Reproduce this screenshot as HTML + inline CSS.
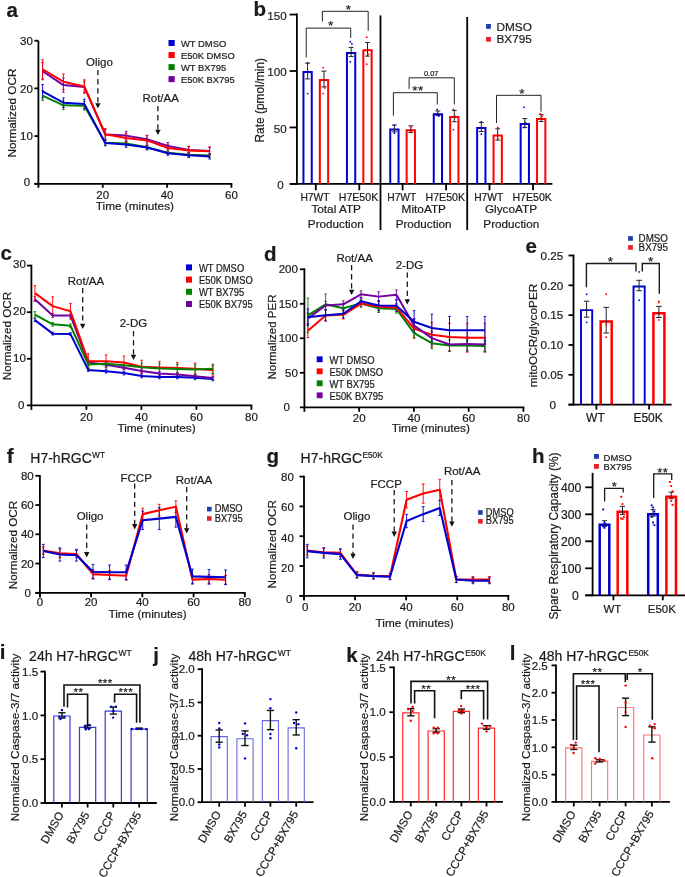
<!DOCTYPE html>
<html><head><meta charset="utf-8"><style>
html,body{margin:0;padding:0;background:#fff;width:685px;height:877px;overflow:hidden}
svg{display:block;will-change:transform}
text{font-family:"Liberation Sans", sans-serif;fill:#1a1a1a;stroke:#1a1a1a;stroke-width:0.2px}
</style></head><body>
<svg width="685" height="877" viewBox="0 0 685 877">
<rect width="685" height="877" fill="#fff"/>
<text x="6.5" y="17.2" font-size="20.5" font-weight="bold" fill="#000">a</text>
<line x1="38.4" y1="40.7" x2="38.4" y2="184.7" stroke="#000" stroke-width="1.8"/>
<line x1="34.4" y1="183.8" x2="232.32" y2="183.8" stroke="#000" stroke-width="1.8"/>
<line x1="34.4" y1="40.7" x2="38.4" y2="40.7" stroke="#000" stroke-width="1.8"/>
<text x="32.8" y="44.8" font-size="11.5" text-anchor="end">30</text>
<line x1="34.4" y1="88.4" x2="38.4" y2="88.4" stroke="#000" stroke-width="1.8"/>
<text x="32.8" y="92.5" font-size="11.5" text-anchor="end">20</text>
<line x1="34.4" y1="136.1" x2="38.4" y2="136.1" stroke="#000" stroke-width="1.8"/>
<text x="32.8" y="140.2" font-size="11.5" text-anchor="end">10</text>
<line x1="34.4" y1="183.8" x2="38.4" y2="183.8" stroke="#000" stroke-width="1.8"/>
<text x="30.2" y="186.4" font-size="11.5" text-anchor="end">0</text>
<line x1="102.74" y1="183.8" x2="102.74" y2="187.8" stroke="#000" stroke-width="1.8"/>
<text x="102.74" y="198.5" font-size="11.5" text-anchor="middle">20</text>
<line x1="167.08" y1="183.8" x2="167.08" y2="187.8" stroke="#000" stroke-width="1.8"/>
<text x="167.08" y="198.5" font-size="11.5" text-anchor="middle">40</text>
<line x1="231.42" y1="183.8" x2="231.42" y2="187.8" stroke="#000" stroke-width="1.8"/>
<text x="231.42" y="198.5" font-size="11.5" text-anchor="middle">60</text>
<line x1="38.4" y1="183.8" x2="38.4" y2="187.8" stroke="#000" stroke-width="1.8"/>
<text x="134.9" y="209.5" font-size="11.8" text-anchor="middle">Time (minutes)</text>
<text x="16.2" y="113" font-size="11.8" text-anchor="middle" transform="rotate(-90 16.2 113)">Normalized OCR</text>
<text x="99.4" y="66.3" font-size="11.5" text-anchor="middle">Oligo</text>
<line x1="97.9" y1="70" x2="97.9" y2="104" stroke="#111" stroke-width="1.25" stroke-dasharray="5.3,3.8"/>
<path d="M95.2,103.2 L100.6,103.2 L97.9,108.5 Z" fill="#111" stroke="none" stroke-width="0"/>
<text x="160.7" y="102" font-size="11.5" text-anchor="middle">Rot/AA</text>
<line x1="157.9" y1="106" x2="157.9" y2="130.5" stroke="#111" stroke-width="1.25" stroke-dasharray="5.3,3.8"/>
<path d="M155.2,129.7 L160.6,129.7 L157.9,135 Z" fill="#111" stroke="none" stroke-width="0"/>
<rect x="168.5" y="40" width="6.2" height="6" fill="#0000d0"/>
<text transform="translate(181 47) scale(1 1.06)" font-size="9.4">WT DMSO</text>
<rect x="168.5" y="52.05" width="6.2" height="6" fill="#ff0000"/>
<text transform="translate(181 59) scale(1 1.06)" font-size="9.4">E50K DMSO</text>
<rect x="168.5" y="64.1" width="6.2" height="6" fill="#008000"/>
<text transform="translate(181 71) scale(1 1.06)" font-size="9.4">WT BX795</text>
<rect x="168.5" y="76.15" width="6.2" height="6" fill="#7000a0"/>
<text transform="translate(181 83) scale(1 1.06)" font-size="9.4">E50K BX795</text>
<line x1="42.58" y1="90.79" x2="42.58" y2="100.33" stroke="#008000" stroke-width="0.9"/>
<line x1="41.28" y1="90.79" x2="43.88" y2="90.79" stroke="#008000" stroke-width="0.9"/>
<line x1="41.28" y1="100.33" x2="43.88" y2="100.33" stroke="#008000" stroke-width="0.9"/>
<line x1="63.46" y1="101.04" x2="63.46" y2="109.63" stroke="#008000" stroke-width="0.9"/>
<line x1="62.16" y1="101.04" x2="64.76" y2="101.04" stroke="#008000" stroke-width="0.9"/>
<line x1="62.16" y1="109.63" x2="64.76" y2="109.63" stroke="#008000" stroke-width="0.9"/>
<line x1="84.34" y1="101.52" x2="84.34" y2="110.1" stroke="#008000" stroke-width="0.9"/>
<line x1="83.04" y1="101.52" x2="85.64" y2="101.52" stroke="#008000" stroke-width="0.9"/>
<line x1="83.04" y1="110.1" x2="85.64" y2="110.1" stroke="#008000" stroke-width="0.9"/>
<line x1="105.22" y1="140.39" x2="105.22" y2="145.16" stroke="#008000" stroke-width="0.9"/>
<line x1="103.92" y1="140.39" x2="106.52" y2="140.39" stroke="#008000" stroke-width="0.9"/>
<line x1="103.92" y1="145.16" x2="106.52" y2="145.16" stroke="#008000" stroke-width="0.9"/>
<line x1="126.1" y1="141.11" x2="126.1" y2="145.88" stroke="#008000" stroke-width="0.9"/>
<line x1="124.8" y1="141.11" x2="127.4" y2="141.11" stroke="#008000" stroke-width="0.9"/>
<line x1="124.8" y1="145.88" x2="127.4" y2="145.88" stroke="#008000" stroke-width="0.9"/>
<line x1="146.97" y1="145.4" x2="146.97" y2="149.22" stroke="#008000" stroke-width="0.9"/>
<line x1="145.67" y1="145.4" x2="148.27" y2="145.4" stroke="#008000" stroke-width="0.9"/>
<line x1="145.67" y1="149.22" x2="148.27" y2="149.22" stroke="#008000" stroke-width="0.9"/>
<line x1="167.85" y1="150.89" x2="167.85" y2="154.7" stroke="#008000" stroke-width="0.9"/>
<line x1="166.55" y1="150.89" x2="169.15" y2="150.89" stroke="#008000" stroke-width="0.9"/>
<line x1="166.55" y1="154.7" x2="169.15" y2="154.7" stroke="#008000" stroke-width="0.9"/>
<line x1="188.73" y1="152.8" x2="188.73" y2="156.61" stroke="#008000" stroke-width="0.9"/>
<line x1="187.43" y1="152.8" x2="190.03" y2="152.8" stroke="#008000" stroke-width="0.9"/>
<line x1="187.43" y1="156.61" x2="190.03" y2="156.61" stroke="#008000" stroke-width="0.9"/>
<line x1="209.61" y1="153.51" x2="209.61" y2="157.33" stroke="#008000" stroke-width="0.9"/>
<line x1="208.31" y1="153.51" x2="210.91" y2="153.51" stroke="#008000" stroke-width="0.9"/>
<line x1="208.31" y1="157.33" x2="210.91" y2="157.33" stroke="#008000" stroke-width="0.9"/>
<line x1="42.58" y1="84.58" x2="42.58" y2="97.94" stroke="#0000d0" stroke-width="0.9"/>
<line x1="41.28" y1="84.58" x2="43.88" y2="84.58" stroke="#0000d0" stroke-width="0.9"/>
<line x1="41.28" y1="97.94" x2="43.88" y2="97.94" stroke="#0000d0" stroke-width="0.9"/>
<line x1="63.46" y1="97.94" x2="63.46" y2="107.48" stroke="#0000d0" stroke-width="0.9"/>
<line x1="62.16" y1="97.94" x2="64.76" y2="97.94" stroke="#0000d0" stroke-width="0.9"/>
<line x1="62.16" y1="107.48" x2="64.76" y2="107.48" stroke="#0000d0" stroke-width="0.9"/>
<line x1="84.34" y1="99.13" x2="84.34" y2="108.67" stroke="#0000d0" stroke-width="0.9"/>
<line x1="83.04" y1="99.13" x2="85.64" y2="99.13" stroke="#0000d0" stroke-width="0.9"/>
<line x1="83.04" y1="108.67" x2="85.64" y2="108.67" stroke="#0000d0" stroke-width="0.9"/>
<line x1="105.22" y1="140.06" x2="105.22" y2="145.78" stroke="#0000d0" stroke-width="0.9"/>
<line x1="103.92" y1="140.06" x2="106.52" y2="140.06" stroke="#0000d0" stroke-width="0.9"/>
<line x1="103.92" y1="145.78" x2="106.52" y2="145.78" stroke="#0000d0" stroke-width="0.9"/>
<line x1="126.1" y1="141.54" x2="126.1" y2="147.26" stroke="#0000d0" stroke-width="0.9"/>
<line x1="124.8" y1="141.54" x2="127.4" y2="141.54" stroke="#0000d0" stroke-width="0.9"/>
<line x1="124.8" y1="147.26" x2="127.4" y2="147.26" stroke="#0000d0" stroke-width="0.9"/>
<line x1="146.97" y1="145.16" x2="146.97" y2="149.93" stroke="#0000d0" stroke-width="0.9"/>
<line x1="145.67" y1="145.16" x2="148.27" y2="145.16" stroke="#0000d0" stroke-width="0.9"/>
<line x1="145.67" y1="149.93" x2="148.27" y2="149.93" stroke="#0000d0" stroke-width="0.9"/>
<line x1="167.85" y1="151.36" x2="167.85" y2="155.18" stroke="#0000d0" stroke-width="0.9"/>
<line x1="166.55" y1="151.36" x2="169.15" y2="151.36" stroke="#0000d0" stroke-width="0.9"/>
<line x1="166.55" y1="155.18" x2="169.15" y2="155.18" stroke="#0000d0" stroke-width="0.9"/>
<line x1="188.73" y1="152.8" x2="188.73" y2="157.56" stroke="#0000d0" stroke-width="0.9"/>
<line x1="187.43" y1="152.8" x2="190.03" y2="152.8" stroke="#0000d0" stroke-width="0.9"/>
<line x1="187.43" y1="157.56" x2="190.03" y2="157.56" stroke="#0000d0" stroke-width="0.9"/>
<line x1="209.61" y1="154.23" x2="209.61" y2="159" stroke="#0000d0" stroke-width="0.9"/>
<line x1="208.31" y1="154.23" x2="210.91" y2="154.23" stroke="#0000d0" stroke-width="0.9"/>
<line x1="208.31" y1="159" x2="210.91" y2="159" stroke="#0000d0" stroke-width="0.9"/>
<line x1="42.58" y1="62.64" x2="42.58" y2="79.81" stroke="#7000a0" stroke-width="0.9"/>
<line x1="41.28" y1="62.64" x2="43.88" y2="62.64" stroke="#7000a0" stroke-width="0.9"/>
<line x1="41.28" y1="79.81" x2="43.88" y2="79.81" stroke="#7000a0" stroke-width="0.9"/>
<line x1="63.46" y1="77.91" x2="63.46" y2="92.22" stroke="#7000a0" stroke-width="0.9"/>
<line x1="62.16" y1="77.91" x2="64.76" y2="77.91" stroke="#7000a0" stroke-width="0.9"/>
<line x1="62.16" y1="92.22" x2="64.76" y2="92.22" stroke="#7000a0" stroke-width="0.9"/>
<line x1="84.34" y1="81.25" x2="84.34" y2="92.69" stroke="#7000a0" stroke-width="0.9"/>
<line x1="83.04" y1="81.25" x2="85.64" y2="81.25" stroke="#7000a0" stroke-width="0.9"/>
<line x1="83.04" y1="92.69" x2="85.64" y2="92.69" stroke="#7000a0" stroke-width="0.9"/>
<line x1="105.22" y1="129.66" x2="105.22" y2="139.2" stroke="#7000a0" stroke-width="0.9"/>
<line x1="103.92" y1="129.66" x2="106.52" y2="129.66" stroke="#7000a0" stroke-width="0.9"/>
<line x1="103.92" y1="139.2" x2="106.52" y2="139.2" stroke="#7000a0" stroke-width="0.9"/>
<line x1="126.1" y1="131.33" x2="126.1" y2="139.92" stroke="#7000a0" stroke-width="0.9"/>
<line x1="124.8" y1="131.33" x2="127.4" y2="131.33" stroke="#7000a0" stroke-width="0.9"/>
<line x1="124.8" y1="139.92" x2="127.4" y2="139.92" stroke="#7000a0" stroke-width="0.9"/>
<line x1="146.97" y1="135.38" x2="146.97" y2="143.02" stroke="#7000a0" stroke-width="0.9"/>
<line x1="145.67" y1="135.38" x2="148.27" y2="135.38" stroke="#7000a0" stroke-width="0.9"/>
<line x1="145.67" y1="143.02" x2="148.27" y2="143.02" stroke="#7000a0" stroke-width="0.9"/>
<line x1="167.85" y1="142.54" x2="167.85" y2="149.22" stroke="#7000a0" stroke-width="0.9"/>
<line x1="166.55" y1="142.54" x2="169.15" y2="142.54" stroke="#7000a0" stroke-width="0.9"/>
<line x1="166.55" y1="149.22" x2="169.15" y2="149.22" stroke="#7000a0" stroke-width="0.9"/>
<line x1="188.73" y1="146.59" x2="188.73" y2="153.27" stroke="#7000a0" stroke-width="0.9"/>
<line x1="187.43" y1="146.59" x2="190.03" y2="146.59" stroke="#7000a0" stroke-width="0.9"/>
<line x1="187.43" y1="153.27" x2="190.03" y2="153.27" stroke="#7000a0" stroke-width="0.9"/>
<line x1="209.61" y1="147.55" x2="209.61" y2="154.23" stroke="#7000a0" stroke-width="0.9"/>
<line x1="208.31" y1="147.55" x2="210.91" y2="147.55" stroke="#7000a0" stroke-width="0.9"/>
<line x1="208.31" y1="154.23" x2="210.91" y2="154.23" stroke="#7000a0" stroke-width="0.9"/>
<line x1="42.58" y1="59.78" x2="42.58" y2="78.86" stroke="#ff0000" stroke-width="0.9"/>
<line x1="41.28" y1="59.78" x2="43.88" y2="59.78" stroke="#ff0000" stroke-width="0.9"/>
<line x1="41.28" y1="78.86" x2="43.88" y2="78.86" stroke="#ff0000" stroke-width="0.9"/>
<line x1="63.46" y1="74.09" x2="63.46" y2="89.35" stroke="#ff0000" stroke-width="0.9"/>
<line x1="62.16" y1="74.09" x2="64.76" y2="74.09" stroke="#ff0000" stroke-width="0.9"/>
<line x1="62.16" y1="89.35" x2="64.76" y2="89.35" stroke="#ff0000" stroke-width="0.9"/>
<line x1="84.34" y1="79.81" x2="84.34" y2="93.17" stroke="#ff0000" stroke-width="0.9"/>
<line x1="83.04" y1="79.81" x2="85.64" y2="79.81" stroke="#ff0000" stroke-width="0.9"/>
<line x1="83.04" y1="93.17" x2="85.64" y2="93.17" stroke="#ff0000" stroke-width="0.9"/>
<line x1="105.22" y1="128.47" x2="105.22" y2="139.92" stroke="#ff0000" stroke-width="0.9"/>
<line x1="103.92" y1="128.47" x2="106.52" y2="128.47" stroke="#ff0000" stroke-width="0.9"/>
<line x1="103.92" y1="139.92" x2="106.52" y2="139.92" stroke="#ff0000" stroke-width="0.9"/>
<line x1="126.1" y1="133.24" x2="126.1" y2="142.78" stroke="#ff0000" stroke-width="0.9"/>
<line x1="124.8" y1="133.24" x2="127.4" y2="133.24" stroke="#ff0000" stroke-width="0.9"/>
<line x1="124.8" y1="142.78" x2="127.4" y2="142.78" stroke="#ff0000" stroke-width="0.9"/>
<line x1="146.97" y1="135.62" x2="146.97" y2="145.16" stroke="#ff0000" stroke-width="0.9"/>
<line x1="145.67" y1="135.62" x2="148.27" y2="135.62" stroke="#ff0000" stroke-width="0.9"/>
<line x1="145.67" y1="145.16" x2="148.27" y2="145.16" stroke="#ff0000" stroke-width="0.9"/>
<line x1="167.85" y1="144.21" x2="167.85" y2="151.84" stroke="#ff0000" stroke-width="0.9"/>
<line x1="166.55" y1="144.21" x2="169.15" y2="144.21" stroke="#ff0000" stroke-width="0.9"/>
<line x1="166.55" y1="151.84" x2="169.15" y2="151.84" stroke="#ff0000" stroke-width="0.9"/>
<line x1="188.73" y1="146.26" x2="188.73" y2="154.85" stroke="#ff0000" stroke-width="0.9"/>
<line x1="187.43" y1="146.26" x2="190.03" y2="146.26" stroke="#ff0000" stroke-width="0.9"/>
<line x1="187.43" y1="154.85" x2="190.03" y2="154.85" stroke="#ff0000" stroke-width="0.9"/>
<line x1="209.61" y1="146.83" x2="209.61" y2="155.42" stroke="#ff0000" stroke-width="0.9"/>
<line x1="208.31" y1="146.83" x2="210.91" y2="146.83" stroke="#ff0000" stroke-width="0.9"/>
<line x1="208.31" y1="155.42" x2="210.91" y2="155.42" stroke="#ff0000" stroke-width="0.9"/>
<polyline points="42.58,95.56 63.46,105.33 84.34,105.81 105.22,142.78 126.1,143.49 146.97,147.31 167.85,152.8 188.73,154.7 209.61,155.42" fill="none" stroke="#008000" stroke-width="2" stroke-linejoin="round"/>
<polyline points="42.58,91.26 63.46,102.71 84.34,103.9 105.22,142.92 126.1,144.4 146.97,147.55 167.85,153.27 188.73,155.18 209.61,156.61" fill="none" stroke="#0000d0" stroke-width="2" stroke-linejoin="round"/>
<polyline points="42.58,71.23 63.46,85.06 84.34,86.97 105.22,134.43 126.1,135.62 146.97,139.2 167.85,145.88 188.73,149.93 209.61,150.89" fill="none" stroke="#7000a0" stroke-width="2" stroke-linejoin="round"/>
<polyline points="42.58,69.32 63.46,81.72 84.34,86.49 105.22,134.19 126.1,138.01 146.97,140.39 167.85,148.03 188.73,150.55 209.61,151.13" fill="none" stroke="#ff0000" stroke-width="2" stroke-linejoin="round"/>
<text x="253.5" y="15.5" font-size="20.5" font-weight="bold" fill="#000">b</text>
<line x1="296.9" y1="13.5" x2="296.9" y2="184.8" stroke="#000" stroke-width="1.8"/>
<line x1="290" y1="183.9" x2="552.4" y2="183.9" stroke="#000" stroke-width="1.8"/>
<line x1="289.6" y1="14.55" x2="296.9" y2="14.55" stroke="#000" stroke-width="1.8"/>
<text x="286.6" y="19.95" font-size="11.6" text-anchor="end">150</text>
<line x1="289.6" y1="71" x2="296.9" y2="71" stroke="#000" stroke-width="1.8"/>
<text x="286.6" y="76.4" font-size="11.6" text-anchor="end">100</text>
<line x1="289.6" y1="127.45" x2="296.9" y2="127.45" stroke="#000" stroke-width="1.8"/>
<text x="286.6" y="132.85" font-size="11.6" text-anchor="end">50</text>
<line x1="289.6" y1="183.9" x2="296.9" y2="183.9" stroke="#000" stroke-width="1.8"/>
<text x="283.6" y="189.3" font-size="11.6" text-anchor="end">0</text>
<text x="264.3" y="100.2" font-size="11.9" text-anchor="middle" transform="rotate(-90 264.3 100.2)">Rate (pmol/min)</text>
<line x1="380.5" y1="15.4" x2="380.5" y2="230" stroke="#000" stroke-width="1.8"/>
<line x1="467.2" y1="17" x2="467.2" y2="230" stroke="#000" stroke-width="1.8"/>
<path d="M303.45,183.9 L303.45,72 L311.75,72 L311.75,183.9" fill="none" stroke="#0000d0" stroke-width="2" stroke-linejoin="miter"/>
<line x1="307.6" y1="63.1" x2="307.6" y2="78.9" stroke="#222" stroke-width="1"/>
<line x1="305.2" y1="63.1" x2="310" y2="63.1" stroke="#222" stroke-width="1"/>
<line x1="305.2" y1="78.9" x2="310" y2="78.9" stroke="#222" stroke-width="1"/>
<circle cx="307.6" cy="63.1" r="0.9" fill="#0000d0"/>
<circle cx="307.6" cy="93.58" r="0.9" fill="#0000d0"/>
<path d="M319.85,183.9 L319.85,80.02 L328.15,80.02 L328.15,183.9" fill="none" stroke="#ff0000" stroke-width="2" stroke-linejoin="miter"/>
<line x1="324" y1="71.11" x2="324" y2="86.92" stroke="#222" stroke-width="1"/>
<line x1="321.6" y1="71.11" x2="326.4" y2="71.11" stroke="#222" stroke-width="1"/>
<line x1="321.6" y1="86.92" x2="326.4" y2="86.92" stroke="#222" stroke-width="1"/>
<circle cx="323.2" cy="67.61" r="0.9" fill="#ff0000"/>
<circle cx="324.8" cy="87.94" r="0.9" fill="#ff0000"/>
<circle cx="323.2" cy="93.58" r="0.9" fill="#ff0000"/>
<path d="M346.95,183.9 L346.95,52.92 L355.25,52.92 L355.25,183.9" fill="none" stroke="#0000d0" stroke-width="2" stroke-linejoin="miter"/>
<line x1="351.1" y1="47.4" x2="351.1" y2="56.44" stroke="#222" stroke-width="1"/>
<line x1="348.7" y1="47.4" x2="353.5" y2="47.4" stroke="#222" stroke-width="1"/>
<line x1="348.7" y1="56.44" x2="353.5" y2="56.44" stroke="#222" stroke-width="1"/>
<circle cx="350.3" cy="41.65" r="0.9" fill="#0000d0"/>
<circle cx="351.9" cy="43.9" r="0.9" fill="#0000d0"/>
<circle cx="350.3" cy="61.97" r="0.9" fill="#0000d0"/>
<circle cx="351.9" cy="52.94" r="0.9" fill="#0000d0"/>
<path d="M363.35,183.9 L363.35,50.32 L371.65,50.32 L371.65,183.9" fill="none" stroke="#ff0000" stroke-width="2" stroke-linejoin="miter"/>
<line x1="367.5" y1="42.55" x2="367.5" y2="56.1" stroke="#222" stroke-width="1"/>
<line x1="365.1" y1="42.55" x2="369.9" y2="42.55" stroke="#222" stroke-width="1"/>
<line x1="365.1" y1="56.1" x2="369.9" y2="56.1" stroke="#222" stroke-width="1"/>
<circle cx="366.7" cy="37.13" r="0.9" fill="#ff0000"/>
<circle cx="368.3" cy="54.06" r="0.9" fill="#ff0000"/>
<circle cx="366.7" cy="64.23" r="0.9" fill="#ff0000"/>
<line x1="315.8" y1="183.9" x2="315.8" y2="190.3" stroke="#000" stroke-width="1.8"/>
<text x="315" y="201.4" font-size="10.25" text-anchor="middle">H7WT</text>
<line x1="359.3" y1="183.9" x2="359.3" y2="190.3" stroke="#000" stroke-width="1.8"/>
<text x="358.5" y="201.4" font-size="10.6" text-anchor="middle">H7E50K</text>
<path d="M390.25,183.9 L390.25,129.47 L398.55,129.47 L398.55,183.9" fill="none" stroke="#0000d0" stroke-width="2" stroke-linejoin="miter"/>
<line x1="394.4" y1="125.08" x2="394.4" y2="131.85" stroke="#222" stroke-width="1"/>
<line x1="392" y1="125.08" x2="396.8" y2="125.08" stroke="#222" stroke-width="1"/>
<line x1="392" y1="131.85" x2="396.8" y2="131.85" stroke="#222" stroke-width="1"/>
<circle cx="394.4" cy="125.19" r="0.9" fill="#0000d0"/>
<circle cx="394.4" cy="133.09" r="0.9" fill="#0000d0"/>
<path d="M406.65,183.9 L406.65,130.26 L414.95,130.26 L414.95,183.9" fill="none" stroke="#ff0000" stroke-width="2" stroke-linejoin="miter"/>
<line x1="410.8" y1="125.87" x2="410.8" y2="132.64" stroke="#222" stroke-width="1"/>
<line x1="408.4" y1="125.87" x2="413.2" y2="125.87" stroke="#222" stroke-width="1"/>
<line x1="408.4" y1="132.64" x2="413.2" y2="132.64" stroke="#222" stroke-width="1"/>
<circle cx="410.8" cy="127.45" r="0.9" fill="#ff0000"/>
<circle cx="410.8" cy="131.97" r="0.9" fill="#ff0000"/>
<path d="M433.75,183.9 L433.75,114.22 L442.05,114.22 L442.05,183.9" fill="none" stroke="#0000d0" stroke-width="2" stroke-linejoin="miter"/>
<line x1="437.9" y1="110.97" x2="437.9" y2="115.48" stroke="#222" stroke-width="1"/>
<line x1="435.5" y1="110.97" x2="440.3" y2="110.97" stroke="#222" stroke-width="1"/>
<line x1="435.5" y1="115.48" x2="440.3" y2="115.48" stroke="#222" stroke-width="1"/>
<circle cx="437.1" cy="109.39" r="0.9" fill="#0000d0"/>
<circle cx="438.7" cy="116.16" r="0.9" fill="#0000d0"/>
<circle cx="437.1" cy="113.9" r="0.9" fill="#0000d0"/>
<path d="M450.15,183.9 L450.15,117.05 L458.45,117.05 L458.45,183.9" fill="none" stroke="#ff0000" stroke-width="2" stroke-linejoin="miter"/>
<line x1="454.3" y1="110.4" x2="454.3" y2="121.69" stroke="#222" stroke-width="1"/>
<line x1="451.9" y1="110.4" x2="456.7" y2="110.4" stroke="#222" stroke-width="1"/>
<line x1="451.9" y1="121.69" x2="456.7" y2="121.69" stroke="#222" stroke-width="1"/>
<circle cx="453.5" cy="109.39" r="0.9" fill="#ff0000"/>
<circle cx="455.1" cy="116.16" r="0.9" fill="#ff0000"/>
<circle cx="453.5" cy="129.71" r="0.9" fill="#ff0000"/>
<line x1="402.6" y1="183.9" x2="402.6" y2="190.3" stroke="#000" stroke-width="1.8"/>
<text x="401.8" y="201.4" font-size="10.25" text-anchor="middle">H7WT</text>
<line x1="446.1" y1="183.9" x2="446.1" y2="190.3" stroke="#000" stroke-width="1.8"/>
<text x="445.3" y="201.4" font-size="10.6" text-anchor="middle">H7E50K</text>
<path d="M477.15,183.9 L477.15,128 L485.45,128 L485.45,183.9" fill="none" stroke="#0000d0" stroke-width="2" stroke-linejoin="miter"/>
<line x1="481.3" y1="122.48" x2="481.3" y2="131.51" stroke="#222" stroke-width="1"/>
<line x1="478.9" y1="122.48" x2="483.7" y2="122.48" stroke="#222" stroke-width="1"/>
<line x1="478.9" y1="131.51" x2="483.7" y2="131.51" stroke="#222" stroke-width="1"/>
<circle cx="481.3" cy="121.81" r="0.9" fill="#0000d0"/>
<circle cx="481.3" cy="134.22" r="0.9" fill="#0000d0"/>
<path d="M493.55,183.9 L493.55,135.45 L501.85,135.45 L501.85,183.9" fill="none" stroke="#ff0000" stroke-width="2" stroke-linejoin="miter"/>
<line x1="497.7" y1="128.8" x2="497.7" y2="140.09" stroke="#222" stroke-width="1"/>
<line x1="495.3" y1="128.8" x2="500.1" y2="128.8" stroke="#222" stroke-width="1"/>
<line x1="495.3" y1="140.09" x2="500.1" y2="140.09" stroke="#222" stroke-width="1"/>
<circle cx="497.7" cy="127.45" r="0.9" fill="#ff0000"/>
<circle cx="497.7" cy="138.74" r="0.9" fill="#ff0000"/>
<path d="M520.65,183.9 L520.65,124.05 L528.95,124.05 L528.95,183.9" fill="none" stroke="#0000d0" stroke-width="2" stroke-linejoin="miter"/>
<line x1="524.8" y1="118.53" x2="524.8" y2="127.56" stroke="#222" stroke-width="1"/>
<line x1="522.4" y1="118.53" x2="527.2" y2="118.53" stroke="#222" stroke-width="1"/>
<line x1="522.4" y1="127.56" x2="527.2" y2="127.56" stroke="#222" stroke-width="1"/>
<circle cx="524" cy="107.13" r="0.9" fill="#0000d0"/>
<circle cx="525.6" cy="122.93" r="0.9" fill="#0000d0"/>
<circle cx="524" cy="127.45" r="0.9" fill="#0000d0"/>
<path d="M537.05,183.9 L537.05,119.08 L545.35,119.08 L545.35,183.9" fill="none" stroke="#ff0000" stroke-width="2" stroke-linejoin="miter"/>
<line x1="541.2" y1="114.69" x2="541.2" y2="121.47" stroke="#222" stroke-width="1"/>
<line x1="538.8" y1="114.69" x2="543.6" y2="114.69" stroke="#222" stroke-width="1"/>
<line x1="538.8" y1="121.47" x2="543.6" y2="121.47" stroke="#222" stroke-width="1"/>
<circle cx="540.4" cy="113.9" r="0.9" fill="#ff0000"/>
<circle cx="542" cy="116.16" r="0.9" fill="#ff0000"/>
<circle cx="540.4" cy="118.42" r="0.9" fill="#ff0000"/>
<line x1="489.5" y1="183.9" x2="489.5" y2="190.3" stroke="#000" stroke-width="1.8"/>
<text x="488.7" y="201.4" font-size="10.25" text-anchor="middle">H7WT</text>
<line x1="533" y1="183.9" x2="533" y2="190.3" stroke="#000" stroke-width="1.8"/>
<text x="532.2" y="201.4" font-size="10.6" text-anchor="middle">H7E50K</text>
<text x="336.2" y="213.4" font-size="11.8" text-anchor="middle">Total ATP</text>
<text x="335.8" y="228" font-size="11.7" text-anchor="middle">Production</text>
<text x="423.8" y="213.4" font-size="11.8" text-anchor="middle">MitoATP</text>
<text x="423.6" y="228" font-size="11.7" text-anchor="middle">Production</text>
<text x="511" y="213.4" font-size="11.8" text-anchor="middle">GlycoATP</text>
<text x="511.3" y="228" font-size="11.7" text-anchor="middle">Production</text>
<path d="M306.2,57.5 L306.2,28.1 L350.7,28.1 L350.7,38" fill="none" stroke="#222" stroke-width="1"/>
<text x="330.7" y="30.49" font-size="13.6" text-anchor="middle">*</text>
<path d="M322.4,21.5 L322.4,11.3 L368.2,11.3 L368.2,30.8" fill="none" stroke="#222" stroke-width="1"/>
<text x="348.5" y="13.69" font-size="13.6" text-anchor="middle">*</text>
<path d="M393.4,115.6 L393.4,92.7 L437.3,92.7 L437.3,104.4" fill="none" stroke="#222" stroke-width="1"/>
<text x="418" y="95.09" font-size="13.6" text-anchor="middle" letter-spacing="0.4">**</text>
<path d="M409.1,89 L409.1,77.8 L454.3,77.8 L454.3,104.4" fill="none" stroke="#222" stroke-width="1"/>
<text x="431.2" y="75.5" font-size="7.5" text-anchor="middle">0.07</text>
<path d="M496.5,123 L496.5,95.3 L541,95.3 L541,111.7" fill="none" stroke="#222" stroke-width="1"/>
<text x="522" y="97.69" font-size="13.6" text-anchor="middle">*</text>
<rect x="486.1" y="24" width="4.8" height="4.8" fill="#1c3faa"/>
<text x="496.5" y="31.2" font-size="11.8">DMSO</text>
<rect x="486.1" y="37" width="4.8" height="4.7" fill="#e8202a"/>
<text x="496.5" y="42.9" font-size="11.8">BX795</text>
<text x="0.5" y="260.3" font-size="20.5" font-weight="bold" fill="#000">c</text>
<line x1="31.4" y1="264.7" x2="31.4" y2="409.9" stroke="#000" stroke-width="1.8"/>
<line x1="26.9" y1="405.4" x2="252.3" y2="405.4" stroke="#000" stroke-width="1.8"/>
<line x1="26.9" y1="265.6" x2="31.4" y2="265.6" stroke="#000" stroke-width="1.8"/>
<text x="25.9" y="268.3" font-size="11.5" text-anchor="end">30</text>
<line x1="26.9" y1="312.2" x2="31.4" y2="312.2" stroke="#000" stroke-width="1.8"/>
<text x="25.9" y="314.9" font-size="11.5" text-anchor="end">20</text>
<line x1="26.9" y1="358.8" x2="31.4" y2="358.8" stroke="#000" stroke-width="1.8"/>
<text x="25.9" y="361.5" font-size="11.5" text-anchor="end">10</text>
<text x="24.4" y="409.4" font-size="11.5" text-anchor="end">0</text>
<line x1="86.4" y1="405.4" x2="86.4" y2="409.9" stroke="#000" stroke-width="1.8"/>
<text x="86.4" y="421" font-size="11.5" text-anchor="middle">20</text>
<line x1="141.4" y1="405.4" x2="141.4" y2="409.9" stroke="#000" stroke-width="1.8"/>
<text x="141.4" y="421" font-size="11.5" text-anchor="middle">40</text>
<line x1="196.4" y1="405.4" x2="196.4" y2="409.9" stroke="#000" stroke-width="1.8"/>
<text x="196.4" y="421" font-size="11.5" text-anchor="middle">60</text>
<line x1="251.4" y1="405.4" x2="251.4" y2="409.9" stroke="#000" stroke-width="1.8"/>
<text x="251.4" y="421" font-size="11.5" text-anchor="middle">80</text>
<text x="156.5" y="432.2" font-size="11.8" text-anchor="middle">Time (minutes)</text>
<text x="11" y="336" font-size="11.7" text-anchor="middle" transform="rotate(-90 11 336)">Normalized OCR</text>
<text x="86" y="284.7" font-size="11.5" text-anchor="middle">Rot/AA</text>
<line x1="82.7" y1="288" x2="82.7" y2="324.5" stroke="#111" stroke-width="1.25" stroke-dasharray="5.3,3.8"/>
<path d="M80,323.7 L85.4,323.7 L82.7,329 Z" fill="#111" stroke="none" stroke-width="0"/>
<text x="133.4" y="326.7" font-size="11.5" text-anchor="middle">2-DG</text>
<line x1="133.5" y1="331" x2="133.5" y2="355.5" stroke="#111" stroke-width="1.25" stroke-dasharray="5.3,3.8"/>
<path d="M130.8,354.7 L136.2,354.7 L133.5,360 Z" fill="#111" stroke="none" stroke-width="0"/>
<rect x="186" y="264.4" width="6" height="6" fill="#0000d0"/>
<text transform="translate(199 271.9) scale(1 1.08)" font-size="9.4">WT DMSO</text>
<rect x="186" y="276.6" width="6" height="6" fill="#ff0000"/>
<text transform="translate(199 283.93) scale(1 1.08)" font-size="9.4">E50K DMSO</text>
<rect x="186" y="288.8" width="6" height="6" fill="#008000"/>
<text transform="translate(199 295.96) scale(1 1.08)" font-size="9.4">WT BX795</text>
<rect x="186" y="301" width="6" height="6" fill="#7000a0"/>
<text transform="translate(199 307.99) scale(1 1.08)" font-size="9.4">E50K BX795</text>
<line x1="34.9" y1="318.72" x2="34.9" y2="321.52" stroke="#0000d0" stroke-width="0.9"/>
<line x1="33.6" y1="318.72" x2="36.2" y2="318.72" stroke="#0000d0" stroke-width="0.9"/>
<line x1="33.6" y1="321.52" x2="36.2" y2="321.52" stroke="#0000d0" stroke-width="0.9"/>
<line x1="52.7" y1="332.24" x2="52.7" y2="335.03" stroke="#0000d0" stroke-width="0.9"/>
<line x1="51.4" y1="332.24" x2="54" y2="332.24" stroke="#0000d0" stroke-width="0.9"/>
<line x1="51.4" y1="335.03" x2="54" y2="335.03" stroke="#0000d0" stroke-width="0.9"/>
<line x1="70.5" y1="332.7" x2="70.5" y2="335.5" stroke="#0000d0" stroke-width="0.9"/>
<line x1="69.2" y1="332.7" x2="71.8" y2="332.7" stroke="#0000d0" stroke-width="0.9"/>
<line x1="69.2" y1="335.5" x2="71.8" y2="335.5" stroke="#0000d0" stroke-width="0.9"/>
<line x1="88.3" y1="368.59" x2="88.3" y2="371.38" stroke="#0000d0" stroke-width="0.9"/>
<line x1="87" y1="368.59" x2="89.6" y2="368.59" stroke="#0000d0" stroke-width="0.9"/>
<line x1="87" y1="371.38" x2="89.6" y2="371.38" stroke="#0000d0" stroke-width="0.9"/>
<line x1="106.1" y1="369.28" x2="106.1" y2="373.01" stroke="#0000d0" stroke-width="0.9"/>
<line x1="104.8" y1="369.28" x2="107.4" y2="369.28" stroke="#0000d0" stroke-width="0.9"/>
<line x1="104.8" y1="373.01" x2="107.4" y2="373.01" stroke="#0000d0" stroke-width="0.9"/>
<line x1="123.9" y1="371.15" x2="123.9" y2="374.88" stroke="#0000d0" stroke-width="0.9"/>
<line x1="122.6" y1="371.15" x2="125.2" y2="371.15" stroke="#0000d0" stroke-width="0.9"/>
<line x1="122.6" y1="374.88" x2="125.2" y2="374.88" stroke="#0000d0" stroke-width="0.9"/>
<line x1="141.7" y1="374.04" x2="141.7" y2="377.77" stroke="#0000d0" stroke-width="0.9"/>
<line x1="140.4" y1="374.04" x2="143" y2="374.04" stroke="#0000d0" stroke-width="0.9"/>
<line x1="140.4" y1="377.77" x2="143" y2="377.77" stroke="#0000d0" stroke-width="0.9"/>
<line x1="159.5" y1="375.02" x2="159.5" y2="378.74" stroke="#0000d0" stroke-width="0.9"/>
<line x1="158.2" y1="375.02" x2="160.8" y2="375.02" stroke="#0000d0" stroke-width="0.9"/>
<line x1="158.2" y1="378.74" x2="160.8" y2="378.74" stroke="#0000d0" stroke-width="0.9"/>
<line x1="177.3" y1="375.02" x2="177.3" y2="378.74" stroke="#0000d0" stroke-width="0.9"/>
<line x1="176" y1="375.02" x2="178.6" y2="375.02" stroke="#0000d0" stroke-width="0.9"/>
<line x1="176" y1="378.74" x2="178.6" y2="378.74" stroke="#0000d0" stroke-width="0.9"/>
<line x1="195.1" y1="375.95" x2="195.1" y2="379.68" stroke="#0000d0" stroke-width="0.9"/>
<line x1="193.8" y1="375.95" x2="196.4" y2="375.95" stroke="#0000d0" stroke-width="0.9"/>
<line x1="193.8" y1="379.68" x2="196.4" y2="379.68" stroke="#0000d0" stroke-width="0.9"/>
<line x1="212.9" y1="377.11" x2="212.9" y2="380.84" stroke="#0000d0" stroke-width="0.9"/>
<line x1="211.6" y1="377.11" x2="214.2" y2="377.11" stroke="#0000d0" stroke-width="0.9"/>
<line x1="211.6" y1="380.84" x2="214.2" y2="380.84" stroke="#0000d0" stroke-width="0.9"/>
<line x1="34.9" y1="296.82" x2="34.9" y2="301.48" stroke="#7000a0" stroke-width="0.9"/>
<line x1="33.6" y1="296.82" x2="36.2" y2="296.82" stroke="#7000a0" stroke-width="0.9"/>
<line x1="33.6" y1="301.48" x2="36.2" y2="301.48" stroke="#7000a0" stroke-width="0.9"/>
<line x1="52.7" y1="313.6" x2="52.7" y2="317.33" stroke="#7000a0" stroke-width="0.9"/>
<line x1="51.4" y1="313.6" x2="54" y2="313.6" stroke="#7000a0" stroke-width="0.9"/>
<line x1="51.4" y1="317.33" x2="54" y2="317.33" stroke="#7000a0" stroke-width="0.9"/>
<line x1="70.5" y1="313.6" x2="70.5" y2="317.33" stroke="#7000a0" stroke-width="0.9"/>
<line x1="69.2" y1="313.6" x2="71.8" y2="313.6" stroke="#7000a0" stroke-width="0.9"/>
<line x1="69.2" y1="317.33" x2="71.8" y2="317.33" stroke="#7000a0" stroke-width="0.9"/>
<line x1="88.3" y1="360.2" x2="88.3" y2="364.86" stroke="#7000a0" stroke-width="0.9"/>
<line x1="87" y1="360.2" x2="89.6" y2="360.2" stroke="#7000a0" stroke-width="0.9"/>
<line x1="87" y1="364.86" x2="89.6" y2="364.86" stroke="#7000a0" stroke-width="0.9"/>
<line x1="106.1" y1="362.53" x2="106.1" y2="367.19" stroke="#7000a0" stroke-width="0.9"/>
<line x1="104.8" y1="362.53" x2="107.4" y2="362.53" stroke="#7000a0" stroke-width="0.9"/>
<line x1="104.8" y1="367.19" x2="107.4" y2="367.19" stroke="#7000a0" stroke-width="0.9"/>
<line x1="123.9" y1="365.93" x2="123.9" y2="369.66" stroke="#7000a0" stroke-width="0.9"/>
<line x1="122.6" y1="365.93" x2="125.2" y2="365.93" stroke="#7000a0" stroke-width="0.9"/>
<line x1="122.6" y1="369.66" x2="125.2" y2="369.66" stroke="#7000a0" stroke-width="0.9"/>
<line x1="141.7" y1="369.05" x2="141.7" y2="372.78" stroke="#7000a0" stroke-width="0.9"/>
<line x1="140.4" y1="369.05" x2="143" y2="369.05" stroke="#7000a0" stroke-width="0.9"/>
<line x1="140.4" y1="372.78" x2="143" y2="372.78" stroke="#7000a0" stroke-width="0.9"/>
<line x1="159.5" y1="371.52" x2="159.5" y2="375.25" stroke="#7000a0" stroke-width="0.9"/>
<line x1="158.2" y1="371.52" x2="160.8" y2="371.52" stroke="#7000a0" stroke-width="0.9"/>
<line x1="158.2" y1="375.25" x2="160.8" y2="375.25" stroke="#7000a0" stroke-width="0.9"/>
<line x1="177.3" y1="372.64" x2="177.3" y2="376.37" stroke="#7000a0" stroke-width="0.9"/>
<line x1="176" y1="372.64" x2="178.6" y2="372.64" stroke="#7000a0" stroke-width="0.9"/>
<line x1="176" y1="376.37" x2="178.6" y2="376.37" stroke="#7000a0" stroke-width="0.9"/>
<line x1="195.1" y1="374.41" x2="195.1" y2="378.14" stroke="#7000a0" stroke-width="0.9"/>
<line x1="193.8" y1="374.41" x2="196.4" y2="374.41" stroke="#7000a0" stroke-width="0.9"/>
<line x1="193.8" y1="378.14" x2="196.4" y2="378.14" stroke="#7000a0" stroke-width="0.9"/>
<line x1="212.9" y1="376.14" x2="212.9" y2="379.86" stroke="#7000a0" stroke-width="0.9"/>
<line x1="211.6" y1="376.14" x2="214.2" y2="376.14" stroke="#7000a0" stroke-width="0.9"/>
<line x1="211.6" y1="379.86" x2="214.2" y2="379.86" stroke="#7000a0" stroke-width="0.9"/>
<line x1="34.9" y1="285.64" x2="34.9" y2="300.55" stroke="#ff0000" stroke-width="0.9"/>
<line x1="33.6" y1="285.64" x2="36.2" y2="285.64" stroke="#ff0000" stroke-width="0.9"/>
<line x1="33.6" y1="300.55" x2="36.2" y2="300.55" stroke="#ff0000" stroke-width="0.9"/>
<line x1="52.7" y1="296.82" x2="52.7" y2="315.46" stroke="#ff0000" stroke-width="0.9"/>
<line x1="51.4" y1="296.82" x2="54" y2="296.82" stroke="#ff0000" stroke-width="0.9"/>
<line x1="51.4" y1="315.46" x2="54" y2="315.46" stroke="#ff0000" stroke-width="0.9"/>
<line x1="70.5" y1="303.35" x2="70.5" y2="319.19" stroke="#ff0000" stroke-width="0.9"/>
<line x1="69.2" y1="303.35" x2="71.8" y2="303.35" stroke="#ff0000" stroke-width="0.9"/>
<line x1="69.2" y1="319.19" x2="71.8" y2="319.19" stroke="#ff0000" stroke-width="0.9"/>
<line x1="88.3" y1="353.67" x2="88.3" y2="368.59" stroke="#ff0000" stroke-width="0.9"/>
<line x1="87" y1="353.67" x2="89.6" y2="353.67" stroke="#ff0000" stroke-width="0.9"/>
<line x1="87" y1="368.59" x2="89.6" y2="368.59" stroke="#ff0000" stroke-width="0.9"/>
<line x1="106.1" y1="354.84" x2="106.1" y2="367.89" stroke="#ff0000" stroke-width="0.9"/>
<line x1="104.8" y1="354.84" x2="107.4" y2="354.84" stroke="#ff0000" stroke-width="0.9"/>
<line x1="104.8" y1="367.89" x2="107.4" y2="367.89" stroke="#ff0000" stroke-width="0.9"/>
<line x1="123.9" y1="356" x2="123.9" y2="369.05" stroke="#ff0000" stroke-width="0.9"/>
<line x1="122.6" y1="356" x2="125.2" y2="356" stroke="#ff0000" stroke-width="0.9"/>
<line x1="122.6" y1="369.05" x2="125.2" y2="369.05" stroke="#ff0000" stroke-width="0.9"/>
<line x1="141.7" y1="360.2" x2="141.7" y2="373.25" stroke="#ff0000" stroke-width="0.9"/>
<line x1="140.4" y1="360.2" x2="143" y2="360.2" stroke="#ff0000" stroke-width="0.9"/>
<line x1="140.4" y1="373.25" x2="143" y2="373.25" stroke="#ff0000" stroke-width="0.9"/>
<line x1="159.5" y1="361.36" x2="159.5" y2="373.48" stroke="#ff0000" stroke-width="0.9"/>
<line x1="158.2" y1="361.36" x2="160.8" y2="361.36" stroke="#ff0000" stroke-width="0.9"/>
<line x1="158.2" y1="373.48" x2="160.8" y2="373.48" stroke="#ff0000" stroke-width="0.9"/>
<line x1="177.3" y1="362.53" x2="177.3" y2="373.71" stroke="#ff0000" stroke-width="0.9"/>
<line x1="176" y1="362.53" x2="178.6" y2="362.53" stroke="#ff0000" stroke-width="0.9"/>
<line x1="176" y1="373.71" x2="178.6" y2="373.71" stroke="#ff0000" stroke-width="0.9"/>
<line x1="195.1" y1="363.09" x2="195.1" y2="374.27" stroke="#ff0000" stroke-width="0.9"/>
<line x1="193.8" y1="363.09" x2="196.4" y2="363.09" stroke="#ff0000" stroke-width="0.9"/>
<line x1="193.8" y1="374.27" x2="196.4" y2="374.27" stroke="#ff0000" stroke-width="0.9"/>
<line x1="212.9" y1="365.56" x2="212.9" y2="374.88" stroke="#ff0000" stroke-width="0.9"/>
<line x1="211.6" y1="365.56" x2="214.2" y2="365.56" stroke="#ff0000" stroke-width="0.9"/>
<line x1="211.6" y1="374.88" x2="214.2" y2="374.88" stroke="#ff0000" stroke-width="0.9"/>
<line x1="34.9" y1="311.73" x2="34.9" y2="317.33" stroke="#008000" stroke-width="0.9"/>
<line x1="33.6" y1="311.73" x2="36.2" y2="311.73" stroke="#008000" stroke-width="0.9"/>
<line x1="33.6" y1="317.33" x2="36.2" y2="317.33" stroke="#008000" stroke-width="0.9"/>
<line x1="52.7" y1="322.45" x2="52.7" y2="326.18" stroke="#008000" stroke-width="0.9"/>
<line x1="51.4" y1="322.45" x2="54" y2="322.45" stroke="#008000" stroke-width="0.9"/>
<line x1="51.4" y1="326.18" x2="54" y2="326.18" stroke="#008000" stroke-width="0.9"/>
<line x1="70.5" y1="323.85" x2="70.5" y2="327.58" stroke="#008000" stroke-width="0.9"/>
<line x1="69.2" y1="323.85" x2="71.8" y2="323.85" stroke="#008000" stroke-width="0.9"/>
<line x1="69.2" y1="327.58" x2="71.8" y2="327.58" stroke="#008000" stroke-width="0.9"/>
<line x1="88.3" y1="362.29" x2="88.3" y2="366.95" stroke="#008000" stroke-width="0.9"/>
<line x1="87" y1="362.29" x2="89.6" y2="362.29" stroke="#008000" stroke-width="0.9"/>
<line x1="87" y1="366.95" x2="89.6" y2="366.95" stroke="#008000" stroke-width="0.9"/>
<line x1="106.1" y1="360.9" x2="106.1" y2="366.49" stroke="#008000" stroke-width="0.9"/>
<line x1="104.8" y1="360.9" x2="107.4" y2="360.9" stroke="#008000" stroke-width="0.9"/>
<line x1="104.8" y1="366.49" x2="107.4" y2="366.49" stroke="#008000" stroke-width="0.9"/>
<line x1="123.9" y1="362.53" x2="123.9" y2="368.12" stroke="#008000" stroke-width="0.9"/>
<line x1="122.6" y1="362.53" x2="125.2" y2="362.53" stroke="#008000" stroke-width="0.9"/>
<line x1="122.6" y1="368.12" x2="125.2" y2="368.12" stroke="#008000" stroke-width="0.9"/>
<line x1="141.7" y1="362.99" x2="141.7" y2="371.38" stroke="#008000" stroke-width="0.9"/>
<line x1="140.4" y1="362.99" x2="143" y2="362.99" stroke="#008000" stroke-width="0.9"/>
<line x1="140.4" y1="371.38" x2="143" y2="371.38" stroke="#008000" stroke-width="0.9"/>
<line x1="159.5" y1="363.93" x2="159.5" y2="373.25" stroke="#008000" stroke-width="0.9"/>
<line x1="158.2" y1="363.93" x2="160.8" y2="363.93" stroke="#008000" stroke-width="0.9"/>
<line x1="158.2" y1="373.25" x2="160.8" y2="373.25" stroke="#008000" stroke-width="0.9"/>
<line x1="177.3" y1="364.3" x2="177.3" y2="373.62" stroke="#008000" stroke-width="0.9"/>
<line x1="176" y1="364.3" x2="178.6" y2="364.3" stroke="#008000" stroke-width="0.9"/>
<line x1="176" y1="373.62" x2="178.6" y2="373.62" stroke="#008000" stroke-width="0.9"/>
<line x1="195.1" y1="364.76" x2="195.1" y2="374.08" stroke="#008000" stroke-width="0.9"/>
<line x1="193.8" y1="364.76" x2="196.4" y2="364.76" stroke="#008000" stroke-width="0.9"/>
<line x1="193.8" y1="374.08" x2="196.4" y2="374.08" stroke="#008000" stroke-width="0.9"/>
<line x1="212.9" y1="364.16" x2="212.9" y2="373.48" stroke="#008000" stroke-width="0.9"/>
<line x1="211.6" y1="364.16" x2="214.2" y2="364.16" stroke="#008000" stroke-width="0.9"/>
<line x1="211.6" y1="373.48" x2="214.2" y2="373.48" stroke="#008000" stroke-width="0.9"/>
<polyline points="34.9,320.12 52.7,333.64 70.5,334.1 88.3,369.98 106.1,371.15 123.9,373.01 141.7,375.9 159.5,376.88 177.3,376.88 195.1,377.81 212.9,378.98" fill="none" stroke="#0000d0" stroke-width="2" stroke-linejoin="round"/>
<polyline points="34.9,299.15 52.7,315.46 70.5,315.46 88.3,362.53 106.1,364.86 123.9,367.79 141.7,370.92 159.5,373.39 177.3,374.5 195.1,376.27 212.9,378" fill="none" stroke="#7000a0" stroke-width="2" stroke-linejoin="round"/>
<polyline points="34.9,293.09 52.7,306.14 70.5,311.27 88.3,361.13 106.1,361.36 123.9,362.53 141.7,366.72 159.5,367.42 177.3,368.12 195.1,368.68 212.9,370.22" fill="none" stroke="#ff0000" stroke-width="2" stroke-linejoin="round"/>
<polyline points="34.9,314.53 52.7,324.32 70.5,325.71 88.3,364.62 106.1,363.69 123.9,365.32 141.7,367.19 159.5,368.59 177.3,368.96 195.1,369.42 212.9,368.82" fill="none" stroke="#008000" stroke-width="2" stroke-linejoin="round"/>
<text x="264" y="261" font-size="20.5" font-weight="bold" fill="#000">d</text>
<line x1="304.4" y1="268.4" x2="304.4" y2="411.8" stroke="#000" stroke-width="1.8"/>
<line x1="299.9" y1="407.3" x2="524.3" y2="407.3" stroke="#000" stroke-width="1.8"/>
<line x1="299.9" y1="269.3" x2="304.4" y2="269.3" stroke="#000" stroke-width="1.8"/>
<text x="297.9" y="273.3" font-size="11.5" text-anchor="end">200</text>
<line x1="299.9" y1="303.8" x2="304.4" y2="303.8" stroke="#000" stroke-width="1.8"/>
<text x="297.9" y="307.8" font-size="11.5" text-anchor="end">150</text>
<line x1="299.9" y1="338.3" x2="304.4" y2="338.3" stroke="#000" stroke-width="1.8"/>
<text x="297.9" y="342.3" font-size="11.5" text-anchor="end">100</text>
<line x1="299.9" y1="372.8" x2="304.4" y2="372.8" stroke="#000" stroke-width="1.8"/>
<text x="297.9" y="376.8" font-size="11.5" text-anchor="end">50</text>
<text x="289.8" y="411.3" font-size="11.5" text-anchor="end">0</text>
<line x1="359.15" y1="407.3" x2="359.15" y2="411.8" stroke="#000" stroke-width="1.8"/>
<text x="359.15" y="422" font-size="11.5" text-anchor="middle">20</text>
<line x1="413.9" y1="407.3" x2="413.9" y2="411.8" stroke="#000" stroke-width="1.8"/>
<text x="413.9" y="422" font-size="11.5" text-anchor="middle">40</text>
<line x1="468.65" y1="407.3" x2="468.65" y2="411.8" stroke="#000" stroke-width="1.8"/>
<text x="468.65" y="422" font-size="11.5" text-anchor="middle">60</text>
<line x1="523.4" y1="407.3" x2="523.4" y2="411.8" stroke="#000" stroke-width="1.8"/>
<text x="523.4" y="422" font-size="11.5" text-anchor="middle">80</text>
<text x="430.8" y="432.2" font-size="11.8" text-anchor="middle">Time (minutes)</text>
<text x="275.5" y="337" font-size="11.5" text-anchor="middle" transform="rotate(-90 275.5 337)">Normalized PER</text>
<text x="354.6" y="262.2" font-size="11.5" text-anchor="middle">Rot/AA</text>
<line x1="351.6" y1="265" x2="351.6" y2="290.5" stroke="#111" stroke-width="1.25" stroke-dasharray="5.3,3.8"/>
<path d="M348.9,289.7 L354.3,289.7 L351.6,295 Z" fill="#111" stroke="none" stroke-width="0"/>
<text x="409.4" y="269.2" font-size="11.5" text-anchor="middle">2-DG</text>
<line x1="407.3" y1="272.5" x2="407.3" y2="300" stroke="#111" stroke-width="1.25" stroke-dasharray="5.3,3.8"/>
<path d="M404.6,299.2 L410,299.2 L407.3,304.5 Z" fill="#111" stroke="none" stroke-width="0"/>
<rect x="316.7" y="356.4" width="5.9" height="5.8" fill="#0000d0"/>
<text transform="translate(329.4 363.6) scale(1 1.08)" font-size="9.4">WT DMSO</text>
<rect x="316.7" y="368.4" width="5.9" height="5.8" fill="#ff0000"/>
<text transform="translate(329.4 375.57) scale(1 1.08)" font-size="9.4">E50K DMSO</text>
<rect x="316.7" y="380.4" width="5.9" height="5.8" fill="#008000"/>
<text transform="translate(329.4 387.54) scale(1 1.08)" font-size="9.4">WT BX795</text>
<rect x="316.7" y="392.4" width="5.9" height="5.8" fill="#7000a0"/>
<text transform="translate(329.4 399.51) scale(1 1.08)" font-size="9.4">E50K BX795</text>
<line x1="307.9" y1="323.81" x2="307.9" y2="337.61" stroke="#ff0000" stroke-width="0.9"/>
<line x1="306.6" y1="323.81" x2="309.2" y2="323.81" stroke="#ff0000" stroke-width="0.9"/>
<line x1="306.6" y1="337.61" x2="309.2" y2="337.61" stroke="#ff0000" stroke-width="0.9"/>
<line x1="325.6" y1="310.01" x2="325.6" y2="321.05" stroke="#ff0000" stroke-width="0.9"/>
<line x1="324.3" y1="310.01" x2="326.9" y2="310.01" stroke="#ff0000" stroke-width="0.9"/>
<line x1="324.3" y1="321.05" x2="326.9" y2="321.05" stroke="#ff0000" stroke-width="0.9"/>
<line x1="343.3" y1="310.7" x2="343.3" y2="318.98" stroke="#ff0000" stroke-width="0.9"/>
<line x1="342" y1="310.7" x2="344.6" y2="310.7" stroke="#ff0000" stroke-width="0.9"/>
<line x1="342" y1="318.98" x2="344.6" y2="318.98" stroke="#ff0000" stroke-width="0.9"/>
<line x1="361" y1="300.14" x2="361" y2="307.04" stroke="#ff0000" stroke-width="0.9"/>
<line x1="359.7" y1="300.14" x2="362.3" y2="300.14" stroke="#ff0000" stroke-width="0.9"/>
<line x1="359.7" y1="307.04" x2="362.3" y2="307.04" stroke="#ff0000" stroke-width="0.9"/>
<line x1="378.7" y1="301.18" x2="378.7" y2="312.22" stroke="#ff0000" stroke-width="0.9"/>
<line x1="377.4" y1="301.18" x2="380" y2="301.18" stroke="#ff0000" stroke-width="0.9"/>
<line x1="377.4" y1="312.22" x2="380" y2="312.22" stroke="#ff0000" stroke-width="0.9"/>
<line x1="396.4" y1="303.25" x2="396.4" y2="311.53" stroke="#ff0000" stroke-width="0.9"/>
<line x1="395.1" y1="303.25" x2="397.7" y2="303.25" stroke="#ff0000" stroke-width="0.9"/>
<line x1="395.1" y1="311.53" x2="397.7" y2="311.53" stroke="#ff0000" stroke-width="0.9"/>
<line x1="414.1" y1="318.98" x2="414.1" y2="338.3" stroke="#ff0000" stroke-width="0.9"/>
<line x1="412.8" y1="318.98" x2="415.4" y2="318.98" stroke="#ff0000" stroke-width="0.9"/>
<line x1="412.8" y1="338.3" x2="415.4" y2="338.3" stroke="#ff0000" stroke-width="0.9"/>
<line x1="431.8" y1="322.29" x2="431.8" y2="347.13" stroke="#ff0000" stroke-width="0.9"/>
<line x1="430.5" y1="322.29" x2="433.1" y2="322.29" stroke="#ff0000" stroke-width="0.9"/>
<line x1="430.5" y1="347.13" x2="433.1" y2="347.13" stroke="#ff0000" stroke-width="0.9"/>
<line x1="449.5" y1="323.19" x2="449.5" y2="350.79" stroke="#ff0000" stroke-width="0.9"/>
<line x1="448.2" y1="323.19" x2="450.8" y2="323.19" stroke="#ff0000" stroke-width="0.9"/>
<line x1="448.2" y1="350.79" x2="450.8" y2="350.79" stroke="#ff0000" stroke-width="0.9"/>
<line x1="467.2" y1="323.19" x2="467.2" y2="352.17" stroke="#ff0000" stroke-width="0.9"/>
<line x1="465.9" y1="323.19" x2="468.5" y2="323.19" stroke="#ff0000" stroke-width="0.9"/>
<line x1="465.9" y1="352.17" x2="468.5" y2="352.17" stroke="#ff0000" stroke-width="0.9"/>
<line x1="484.9" y1="323.19" x2="484.9" y2="352.17" stroke="#ff0000" stroke-width="0.9"/>
<line x1="483.6" y1="323.19" x2="486.2" y2="323.19" stroke="#ff0000" stroke-width="0.9"/>
<line x1="483.6" y1="352.17" x2="486.2" y2="352.17" stroke="#ff0000" stroke-width="0.9"/>
<line x1="307.9" y1="312.91" x2="307.9" y2="323.95" stroke="#7000a0" stroke-width="0.9"/>
<line x1="306.6" y1="312.91" x2="309.2" y2="312.91" stroke="#7000a0" stroke-width="0.9"/>
<line x1="306.6" y1="323.95" x2="309.2" y2="323.95" stroke="#7000a0" stroke-width="0.9"/>
<line x1="325.6" y1="301.38" x2="325.6" y2="309.67" stroke="#7000a0" stroke-width="0.9"/>
<line x1="324.3" y1="301.38" x2="326.9" y2="301.38" stroke="#7000a0" stroke-width="0.9"/>
<line x1="324.3" y1="309.67" x2="326.9" y2="309.67" stroke="#7000a0" stroke-width="0.9"/>
<line x1="343.3" y1="300.83" x2="343.3" y2="307.73" stroke="#7000a0" stroke-width="0.9"/>
<line x1="342" y1="300.83" x2="344.6" y2="300.83" stroke="#7000a0" stroke-width="0.9"/>
<line x1="342" y1="307.73" x2="344.6" y2="307.73" stroke="#7000a0" stroke-width="0.9"/>
<line x1="361" y1="290.83" x2="361" y2="297.73" stroke="#7000a0" stroke-width="0.9"/>
<line x1="359.7" y1="290.83" x2="362.3" y2="290.83" stroke="#7000a0" stroke-width="0.9"/>
<line x1="359.7" y1="297.73" x2="362.3" y2="297.73" stroke="#7000a0" stroke-width="0.9"/>
<line x1="378.7" y1="291.79" x2="378.7" y2="301.45" stroke="#7000a0" stroke-width="0.9"/>
<line x1="377.4" y1="291.79" x2="380" y2="291.79" stroke="#7000a0" stroke-width="0.9"/>
<line x1="377.4" y1="301.45" x2="380" y2="301.45" stroke="#7000a0" stroke-width="0.9"/>
<line x1="396.4" y1="289.86" x2="396.4" y2="299.52" stroke="#7000a0" stroke-width="0.9"/>
<line x1="395.1" y1="289.86" x2="397.7" y2="289.86" stroke="#7000a0" stroke-width="0.9"/>
<line x1="395.1" y1="299.52" x2="397.7" y2="299.52" stroke="#7000a0" stroke-width="0.9"/>
<line x1="414.1" y1="318.7" x2="414.1" y2="332.5" stroke="#7000a0" stroke-width="0.9"/>
<line x1="412.8" y1="318.7" x2="415.4" y2="318.7" stroke="#7000a0" stroke-width="0.9"/>
<line x1="412.8" y1="332.5" x2="415.4" y2="332.5" stroke="#7000a0" stroke-width="0.9"/>
<line x1="431.8" y1="331.19" x2="431.8" y2="344.99" stroke="#7000a0" stroke-width="0.9"/>
<line x1="430.5" y1="331.19" x2="433.1" y2="331.19" stroke="#7000a0" stroke-width="0.9"/>
<line x1="430.5" y1="344.99" x2="433.1" y2="344.99" stroke="#7000a0" stroke-width="0.9"/>
<line x1="449.5" y1="337.61" x2="449.5" y2="351.41" stroke="#7000a0" stroke-width="0.9"/>
<line x1="448.2" y1="337.61" x2="450.8" y2="337.61" stroke="#7000a0" stroke-width="0.9"/>
<line x1="448.2" y1="351.41" x2="450.8" y2="351.41" stroke="#7000a0" stroke-width="0.9"/>
<line x1="467.2" y1="336.99" x2="467.2" y2="350.79" stroke="#7000a0" stroke-width="0.9"/>
<line x1="465.9" y1="336.99" x2="468.5" y2="336.99" stroke="#7000a0" stroke-width="0.9"/>
<line x1="465.9" y1="350.79" x2="468.5" y2="350.79" stroke="#7000a0" stroke-width="0.9"/>
<line x1="484.9" y1="337.61" x2="484.9" y2="351.41" stroke="#7000a0" stroke-width="0.9"/>
<line x1="483.6" y1="337.61" x2="486.2" y2="337.61" stroke="#7000a0" stroke-width="0.9"/>
<line x1="483.6" y1="351.41" x2="486.2" y2="351.41" stroke="#7000a0" stroke-width="0.9"/>
<line x1="307.9" y1="298.07" x2="307.9" y2="332.57" stroke="#008000" stroke-width="0.9"/>
<line x1="306.6" y1="298.07" x2="309.2" y2="298.07" stroke="#008000" stroke-width="0.9"/>
<line x1="306.6" y1="332.57" x2="309.2" y2="332.57" stroke="#008000" stroke-width="0.9"/>
<line x1="325.6" y1="293.93" x2="325.6" y2="314.63" stroke="#008000" stroke-width="0.9"/>
<line x1="324.3" y1="293.93" x2="326.9" y2="293.93" stroke="#008000" stroke-width="0.9"/>
<line x1="324.3" y1="314.63" x2="326.9" y2="314.63" stroke="#008000" stroke-width="0.9"/>
<line x1="343.3" y1="303.46" x2="343.3" y2="313.12" stroke="#008000" stroke-width="0.9"/>
<line x1="342" y1="303.46" x2="344.6" y2="303.46" stroke="#008000" stroke-width="0.9"/>
<line x1="342" y1="313.12" x2="344.6" y2="313.12" stroke="#008000" stroke-width="0.9"/>
<line x1="361" y1="300.14" x2="361" y2="307.04" stroke="#008000" stroke-width="0.9"/>
<line x1="359.7" y1="300.14" x2="362.3" y2="300.14" stroke="#008000" stroke-width="0.9"/>
<line x1="359.7" y1="307.04" x2="362.3" y2="307.04" stroke="#008000" stroke-width="0.9"/>
<line x1="378.7" y1="304.15" x2="378.7" y2="312.43" stroke="#008000" stroke-width="0.9"/>
<line x1="377.4" y1="304.15" x2="380" y2="304.15" stroke="#008000" stroke-width="0.9"/>
<line x1="377.4" y1="312.43" x2="380" y2="312.43" stroke="#008000" stroke-width="0.9"/>
<line x1="396.4" y1="304.84" x2="396.4" y2="313.12" stroke="#008000" stroke-width="0.9"/>
<line x1="395.1" y1="304.84" x2="397.7" y2="304.84" stroke="#008000" stroke-width="0.9"/>
<line x1="395.1" y1="313.12" x2="397.7" y2="313.12" stroke="#008000" stroke-width="0.9"/>
<line x1="414.1" y1="328.99" x2="414.1" y2="337.26" stroke="#008000" stroke-width="0.9"/>
<line x1="412.8" y1="328.99" x2="415.4" y2="328.99" stroke="#008000" stroke-width="0.9"/>
<line x1="412.8" y1="337.26" x2="415.4" y2="337.26" stroke="#008000" stroke-width="0.9"/>
<line x1="431.8" y1="337.68" x2="431.8" y2="348.72" stroke="#008000" stroke-width="0.9"/>
<line x1="430.5" y1="337.68" x2="433.1" y2="337.68" stroke="#008000" stroke-width="0.9"/>
<line x1="430.5" y1="348.72" x2="433.1" y2="348.72" stroke="#008000" stroke-width="0.9"/>
<line x1="449.5" y1="339.96" x2="449.5" y2="351" stroke="#008000" stroke-width="0.9"/>
<line x1="448.2" y1="339.96" x2="450.8" y2="339.96" stroke="#008000" stroke-width="0.9"/>
<line x1="448.2" y1="351" x2="450.8" y2="351" stroke="#008000" stroke-width="0.9"/>
<line x1="467.2" y1="340.09" x2="467.2" y2="351.13" stroke="#008000" stroke-width="0.9"/>
<line x1="465.9" y1="340.09" x2="468.5" y2="340.09" stroke="#008000" stroke-width="0.9"/>
<line x1="465.9" y1="351.13" x2="468.5" y2="351.13" stroke="#008000" stroke-width="0.9"/>
<line x1="484.9" y1="340.58" x2="484.9" y2="351.62" stroke="#008000" stroke-width="0.9"/>
<line x1="483.6" y1="340.58" x2="486.2" y2="340.58" stroke="#008000" stroke-width="0.9"/>
<line x1="483.6" y1="351.62" x2="486.2" y2="351.62" stroke="#008000" stroke-width="0.9"/>
<line x1="307.9" y1="308.91" x2="307.9" y2="325.47" stroke="#0000d0" stroke-width="0.9"/>
<line x1="306.6" y1="308.91" x2="309.2" y2="308.91" stroke="#0000d0" stroke-width="0.9"/>
<line x1="306.6" y1="325.47" x2="309.2" y2="325.47" stroke="#0000d0" stroke-width="0.9"/>
<line x1="325.6" y1="309.8" x2="325.6" y2="320.84" stroke="#0000d0" stroke-width="0.9"/>
<line x1="324.3" y1="309.8" x2="326.9" y2="309.8" stroke="#0000d0" stroke-width="0.9"/>
<line x1="324.3" y1="320.84" x2="326.9" y2="320.84" stroke="#0000d0" stroke-width="0.9"/>
<line x1="343.3" y1="309.6" x2="343.3" y2="317.88" stroke="#0000d0" stroke-width="0.9"/>
<line x1="342" y1="309.6" x2="344.6" y2="309.6" stroke="#0000d0" stroke-width="0.9"/>
<line x1="342" y1="317.88" x2="344.6" y2="317.88" stroke="#0000d0" stroke-width="0.9"/>
<line x1="361" y1="297.87" x2="361" y2="304.77" stroke="#0000d0" stroke-width="0.9"/>
<line x1="359.7" y1="297.87" x2="362.3" y2="297.87" stroke="#0000d0" stroke-width="0.9"/>
<line x1="359.7" y1="304.77" x2="362.3" y2="304.77" stroke="#0000d0" stroke-width="0.9"/>
<line x1="378.7" y1="300.7" x2="378.7" y2="310.36" stroke="#0000d0" stroke-width="0.9"/>
<line x1="377.4" y1="300.7" x2="380" y2="300.7" stroke="#0000d0" stroke-width="0.9"/>
<line x1="377.4" y1="310.36" x2="380" y2="310.36" stroke="#0000d0" stroke-width="0.9"/>
<line x1="396.4" y1="300.21" x2="396.4" y2="311.25" stroke="#0000d0" stroke-width="0.9"/>
<line x1="395.1" y1="300.21" x2="397.7" y2="300.21" stroke="#0000d0" stroke-width="0.9"/>
<line x1="395.1" y1="311.25" x2="397.7" y2="311.25" stroke="#0000d0" stroke-width="0.9"/>
<line x1="414.1" y1="310.7" x2="414.1" y2="332.78" stroke="#0000d0" stroke-width="0.9"/>
<line x1="412.8" y1="310.7" x2="415.4" y2="310.7" stroke="#0000d0" stroke-width="0.9"/>
<line x1="412.8" y1="332.78" x2="415.4" y2="332.78" stroke="#0000d0" stroke-width="0.9"/>
<line x1="431.8" y1="314.15" x2="431.8" y2="341.75" stroke="#0000d0" stroke-width="0.9"/>
<line x1="430.5" y1="314.15" x2="433.1" y2="314.15" stroke="#0000d0" stroke-width="0.9"/>
<line x1="430.5" y1="341.75" x2="433.1" y2="341.75" stroke="#0000d0" stroke-width="0.9"/>
<line x1="449.5" y1="316.43" x2="449.5" y2="344.03" stroke="#0000d0" stroke-width="0.9"/>
<line x1="448.2" y1="316.43" x2="450.8" y2="316.43" stroke="#0000d0" stroke-width="0.9"/>
<line x1="448.2" y1="344.03" x2="450.8" y2="344.03" stroke="#0000d0" stroke-width="0.9"/>
<line x1="467.2" y1="316.43" x2="467.2" y2="344.03" stroke="#0000d0" stroke-width="0.9"/>
<line x1="465.9" y1="316.43" x2="468.5" y2="316.43" stroke="#0000d0" stroke-width="0.9"/>
<line x1="465.9" y1="344.03" x2="468.5" y2="344.03" stroke="#0000d0" stroke-width="0.9"/>
<line x1="484.9" y1="316.43" x2="484.9" y2="344.03" stroke="#0000d0" stroke-width="0.9"/>
<line x1="483.6" y1="316.43" x2="486.2" y2="316.43" stroke="#0000d0" stroke-width="0.9"/>
<line x1="483.6" y1="344.03" x2="486.2" y2="344.03" stroke="#0000d0" stroke-width="0.9"/>
<polyline points="307.9,315.32 325.6,304.28 343.3,308.29 361,303.59 378.7,308.29 396.4,308.98 414.1,333.12 431.8,343.2 449.5,345.48 467.2,345.61 484.9,346.1" fill="none" stroke="#008000" stroke-width="2" stroke-linejoin="round"/>
<polyline points="307.9,330.71 325.6,315.53 343.3,314.84 361,303.59 378.7,306.7 396.4,307.39 414.1,328.64 431.8,334.71 449.5,336.99 467.2,337.68 484.9,337.68" fill="none" stroke="#ff0000" stroke-width="2" stroke-linejoin="round"/>
<polyline points="307.9,318.43 325.6,305.53 343.3,304.28 361,294.28 378.7,296.62 396.4,294.69 414.1,325.6 431.8,338.09 449.5,344.51 467.2,343.89 484.9,344.51" fill="none" stroke="#7000a0" stroke-width="2" stroke-linejoin="round"/>
<polyline points="307.9,317.19 325.6,315.32 343.3,313.74 361,301.32 378.7,305.53 396.4,305.73 414.1,321.74 431.8,327.95 449.5,330.23 467.2,330.23 484.9,330.23" fill="none" stroke="#0000d0" stroke-width="2" stroke-linejoin="round"/>
<text x="525.5" y="252.6" font-size="20.5" font-weight="bold" fill="#000">e</text>
<line x1="573.5" y1="254.6" x2="573.5" y2="405.5" stroke="#000" stroke-width="1.8"/>
<line x1="568.5" y1="404.6" x2="671.6" y2="404.6" stroke="#000" stroke-width="1.8"/>
<line x1="568.5" y1="255.5" x2="573.5" y2="255.5" stroke="#000" stroke-width="1.8"/>
<text x="563.2" y="259.8" font-size="11.7" text-anchor="end">0.25</text>
<line x1="568.5" y1="285.32" x2="573.5" y2="285.32" stroke="#000" stroke-width="1.8"/>
<text x="563.2" y="289.62" font-size="11.7" text-anchor="end">0.20</text>
<line x1="568.5" y1="315.14" x2="573.5" y2="315.14" stroke="#000" stroke-width="1.8"/>
<text x="563.2" y="319.44" font-size="11.7" text-anchor="end">0.15</text>
<line x1="568.5" y1="344.96" x2="573.5" y2="344.96" stroke="#000" stroke-width="1.8"/>
<text x="563.2" y="349.26" font-size="11.7" text-anchor="end">0.10</text>
<line x1="568.5" y1="374.78" x2="573.5" y2="374.78" stroke="#000" stroke-width="1.8"/>
<text x="563.2" y="379.08" font-size="11.7" text-anchor="end">0.05</text>
<line x1="568.5" y1="404.6" x2="573.5" y2="404.6" stroke="#000" stroke-width="1.8"/>
<text x="555.9" y="408.9" font-size="11.7" text-anchor="end">0</text>
<text x="537" y="335.5" font-size="11.8" text-anchor="middle" transform="rotate(-90 537 335.5)">mitoOCR/glycoPER</text>
<path d="M581,404.6 L581,310.13 L592.2,310.13 L592.2,404.6" fill="none" stroke="#0000d0" stroke-width="1.9" stroke-linejoin="miter"/>
<line x1="586.6" y1="301.18" x2="586.6" y2="317.17" stroke="#222" stroke-width="1"/>
<line x1="583.8" y1="301.18" x2="589.4" y2="301.18" stroke="#222" stroke-width="1"/>
<line x1="583.8" y1="317.17" x2="589.4" y2="317.17" stroke="#222" stroke-width="1"/>
<circle cx="586.6" cy="294.27" r="0.9" fill="#0000d0"/>
<circle cx="586.6" cy="322.3" r="0.9" fill="#0000d0"/>
<path d="M600.7,404.6 L600.7,321.46 L611.7,321.46 L611.7,404.6" fill="none" stroke="#ff0000" stroke-width="2.5" stroke-linejoin="miter"/>
<line x1="606.2" y1="307.39" x2="606.2" y2="333.03" stroke="#222" stroke-width="1"/>
<line x1="603.4" y1="307.39" x2="609" y2="307.39" stroke="#222" stroke-width="1"/>
<line x1="603.4" y1="333.03" x2="609" y2="333.03" stroke="#222" stroke-width="1"/>
<circle cx="606.2" cy="294.27" r="0.9" fill="#ff0000"/>
<circle cx="606.2" cy="324.68" r="0.9" fill="#ff0000"/>
<circle cx="606.2" cy="337.21" r="0.9" fill="#ff0000"/>
<path d="M633.5,404.6 L633.5,286.45 L644.7,286.45 L644.7,404.6" fill="none" stroke="#0000d0" stroke-width="1.9" stroke-linejoin="miter"/>
<line x1="639.1" y1="280.31" x2="639.1" y2="290.69" stroke="#222" stroke-width="1"/>
<line x1="636.3" y1="280.31" x2="641.9" y2="280.31" stroke="#222" stroke-width="1"/>
<line x1="636.3" y1="290.69" x2="641.9" y2="290.69" stroke="#222" stroke-width="1"/>
<circle cx="639.1" cy="271.9" r="0.9" fill="#0000d0"/>
<circle cx="639.1" cy="300.23" r="0.9" fill="#0000d0"/>
<path d="M653.4,404.6 L653.4,313.17 L664.4,313.17 L664.4,404.6" fill="none" stroke="#ff0000" stroke-width="2.5" stroke-linejoin="miter"/>
<line x1="658.9" y1="306.37" x2="658.9" y2="317.47" stroke="#222" stroke-width="1"/>
<line x1="656.1" y1="306.37" x2="661.7" y2="306.37" stroke="#222" stroke-width="1"/>
<line x1="656.1" y1="317.47" x2="661.7" y2="317.47" stroke="#222" stroke-width="1"/>
<circle cx="658.9" cy="301.12" r="0.9" fill="#ff0000"/>
<circle cx="658.9" cy="302.62" r="0.9" fill="#ff0000"/>
<circle cx="658.9" cy="319.91" r="0.9" fill="#ff0000"/>
<line x1="596.4" y1="404.6" x2="596.4" y2="409.6" stroke="#000" stroke-width="1.8"/>
<text x="595.4" y="421.8" font-size="12" text-anchor="middle">WT</text>
<line x1="649.1" y1="404.6" x2="649.1" y2="409.6" stroke="#000" stroke-width="1.8"/>
<text x="648.1" y="421.8" font-size="12" text-anchor="middle">E50K</text>
<path d="M586.4,287.2 L586.4,263.5 L636,263.5 L636,271.5" fill="none" stroke="#1a1a1a" stroke-width="1.4"/>
<text x="610.3" y="266.22" font-size="13.4" text-anchor="middle">*</text>
<path d="M642.3,271.5 L642.3,263.5 L659.3,263.5 L659.3,293.7" fill="none" stroke="#1a1a1a" stroke-width="1.4"/>
<text x="650.6" y="266.22" font-size="13.4" text-anchor="middle">*</text>
<rect x="628.1" y="236.1" width="4.8" height="4.7" fill="#1c3faa"/>
<text transform="translate(638.6 241.9) scale(1 1.12)" font-size="9.8">DMSO</text>
<rect x="628.1" y="245.1" width="4.8" height="4.7" fill="#e8202a"/>
<text transform="translate(638.6 251.1) scale(1 1.12)" font-size="9.8">BX795</text>
<text x="6.8" y="462.8" font-size="20.5" font-weight="bold" fill="#000">f</text>
<text x="30.3" y="462.8" font-size="14">H7-hRGC</text>
<text transform="translate(92.1 458.2) scale(1 1.1)" font-size="8.3">WT</text>
<line x1="39.9" y1="474.9" x2="39.9" y2="597.3" stroke="#000" stroke-width="1.8"/>
<line x1="35.4" y1="592.8" x2="245.7" y2="592.8" stroke="#000" stroke-width="1.8"/>
<line x1="35.4" y1="475.8" x2="39.9" y2="475.8" stroke="#000" stroke-width="1.8"/>
<text x="33.7" y="479.9" font-size="11.5" text-anchor="end">80</text>
<line x1="35.4" y1="505.05" x2="39.9" y2="505.05" stroke="#000" stroke-width="1.8"/>
<text x="33.7" y="509.15" font-size="11.5" text-anchor="end">60</text>
<line x1="35.4" y1="534.3" x2="39.9" y2="534.3" stroke="#000" stroke-width="1.8"/>
<text x="33.7" y="538.4" font-size="11.5" text-anchor="end">40</text>
<line x1="35.4" y1="563.55" x2="39.9" y2="563.55" stroke="#000" stroke-width="1.8"/>
<text x="33.7" y="567.65" font-size="11.5" text-anchor="end">20</text>
<line x1="35.4" y1="592.8" x2="39.9" y2="592.8" stroke="#000" stroke-width="1.8"/>
<text x="31" y="596.9" font-size="11.5" text-anchor="end">0</text>
<line x1="39.9" y1="592.8" x2="39.9" y2="597.3" stroke="#000" stroke-width="1.8"/>
<text x="39.9" y="606.2" font-size="11.5" text-anchor="middle">0</text>
<line x1="91.12" y1="592.8" x2="91.12" y2="597.3" stroke="#000" stroke-width="1.8"/>
<text x="91.12" y="606.2" font-size="11.5" text-anchor="middle">20</text>
<line x1="142.35" y1="592.8" x2="142.35" y2="597.3" stroke="#000" stroke-width="1.8"/>
<text x="142.35" y="606.2" font-size="11.5" text-anchor="middle">40</text>
<line x1="193.58" y1="592.8" x2="193.58" y2="597.3" stroke="#000" stroke-width="1.8"/>
<text x="193.58" y="606.2" font-size="11.5" text-anchor="middle">60</text>
<line x1="244.8" y1="592.8" x2="244.8" y2="597.3" stroke="#000" stroke-width="1.8"/>
<text x="244.8" y="606.2" font-size="11.5" text-anchor="middle">80</text>
<text x="147.5" y="617.7" font-size="11.8" text-anchor="middle">Time (minutes)</text>
<text x="17" y="545" font-size="11.7" text-anchor="middle" transform="rotate(-90 17 545)">Normalized OCR</text>
<text x="90.1" y="520.3" font-size="11.5" text-anchor="middle">Oligo</text>
<line x1="86.7" y1="524.4" x2="86.7" y2="552.9" stroke="#111" stroke-width="1.25" stroke-dasharray="5.3,3.8"/>
<path d="M84,552.1 L89.4,552.1 L86.7,557.4 Z" fill="#111" stroke="none" stroke-width="0"/>
<text x="136.2" y="481.5" font-size="11.5" text-anchor="middle">FCCP</text>
<line x1="134.7" y1="483.5" x2="134.7" y2="524.9" stroke="#111" stroke-width="1.25" stroke-dasharray="5.3,3.8"/>
<path d="M132,524.1 L137.4,524.1 L134.7,529.4 Z" fill="#111" stroke="none" stroke-width="0"/>
<text x="194" y="483.8" font-size="11.5" text-anchor="middle">Rot/AA</text>
<line x1="186.7" y1="487" x2="186.7" y2="529" stroke="#111" stroke-width="1.25" stroke-dasharray="5.3,3.8"/>
<path d="M184,528.2 L189.4,528.2 L186.7,533.5 Z" fill="#111" stroke="none" stroke-width="0"/>
<rect x="207" y="506.8" width="4.6" height="4.6" fill="#1c3faa"/>
<text transform="translate(214.7 512.2) scale(1 1.12)" font-size="9.3">DMSO</text>
<rect x="207" y="516.2" width="4.6" height="4.6" fill="#e8202a"/>
<text transform="translate(214.7 521.6) scale(1 1.12)" font-size="9.3">BX795</text>
<line x1="43.3" y1="546.88" x2="43.3" y2="554.19" stroke="#ff0000" stroke-width="0.9"/>
<line x1="41.9" y1="546.88" x2="44.7" y2="546.88" stroke="#ff0000" stroke-width="0.9"/>
<line x1="41.9" y1="554.19" x2="44.7" y2="554.19" stroke="#ff0000" stroke-width="0.9"/>
<line x1="59.87" y1="548.92" x2="59.87" y2="557.7" stroke="#ff0000" stroke-width="0.9"/>
<line x1="58.47" y1="548.92" x2="61.27" y2="548.92" stroke="#ff0000" stroke-width="0.9"/>
<line x1="58.47" y1="557.7" x2="61.27" y2="557.7" stroke="#ff0000" stroke-width="0.9"/>
<line x1="76.44" y1="550.39" x2="76.44" y2="557.7" stroke="#ff0000" stroke-width="0.9"/>
<line x1="75.04" y1="550.39" x2="77.84" y2="550.39" stroke="#ff0000" stroke-width="0.9"/>
<line x1="75.04" y1="557.7" x2="77.84" y2="557.7" stroke="#ff0000" stroke-width="0.9"/>
<line x1="93.01" y1="569.69" x2="93.01" y2="578.47" stroke="#ff0000" stroke-width="0.9"/>
<line x1="91.61" y1="569.69" x2="94.41" y2="569.69" stroke="#ff0000" stroke-width="0.9"/>
<line x1="91.61" y1="578.47" x2="94.41" y2="578.47" stroke="#ff0000" stroke-width="0.9"/>
<line x1="109.58" y1="570.57" x2="109.58" y2="579.34" stroke="#ff0000" stroke-width="0.9"/>
<line x1="108.18" y1="570.57" x2="110.98" y2="570.57" stroke="#ff0000" stroke-width="0.9"/>
<line x1="108.18" y1="579.34" x2="110.98" y2="579.34" stroke="#ff0000" stroke-width="0.9"/>
<line x1="126.15" y1="571.3" x2="126.15" y2="580.08" stroke="#ff0000" stroke-width="0.9"/>
<line x1="124.75" y1="571.3" x2="127.55" y2="571.3" stroke="#ff0000" stroke-width="0.9"/>
<line x1="124.75" y1="580.08" x2="127.55" y2="580.08" stroke="#ff0000" stroke-width="0.9"/>
<line x1="142.72" y1="508.27" x2="142.72" y2="519.97" stroke="#ff0000" stroke-width="0.9"/>
<line x1="141.32" y1="508.27" x2="144.12" y2="508.27" stroke="#ff0000" stroke-width="0.9"/>
<line x1="141.32" y1="519.97" x2="144.12" y2="519.97" stroke="#ff0000" stroke-width="0.9"/>
<line x1="159.29" y1="504.32" x2="159.29" y2="516.02" stroke="#ff0000" stroke-width="0.9"/>
<line x1="157.89" y1="504.32" x2="160.69" y2="504.32" stroke="#ff0000" stroke-width="0.9"/>
<line x1="157.89" y1="516.02" x2="160.69" y2="516.02" stroke="#ff0000" stroke-width="0.9"/>
<line x1="175.86" y1="500.81" x2="175.86" y2="512.51" stroke="#ff0000" stroke-width="0.9"/>
<line x1="174.46" y1="500.81" x2="177.26" y2="500.81" stroke="#ff0000" stroke-width="0.9"/>
<line x1="174.46" y1="512.51" x2="177.26" y2="512.51" stroke="#ff0000" stroke-width="0.9"/>
<line x1="192.43" y1="575.25" x2="192.43" y2="584.02" stroke="#ff0000" stroke-width="0.9"/>
<line x1="191.03" y1="575.25" x2="193.83" y2="575.25" stroke="#ff0000" stroke-width="0.9"/>
<line x1="191.03" y1="584.02" x2="193.83" y2="584.02" stroke="#ff0000" stroke-width="0.9"/>
<line x1="209" y1="574.66" x2="209" y2="583.44" stroke="#ff0000" stroke-width="0.9"/>
<line x1="207.6" y1="574.66" x2="210.4" y2="574.66" stroke="#ff0000" stroke-width="0.9"/>
<line x1="207.6" y1="583.44" x2="210.4" y2="583.44" stroke="#ff0000" stroke-width="0.9"/>
<line x1="225.57" y1="575.4" x2="225.57" y2="584.17" stroke="#ff0000" stroke-width="0.9"/>
<line x1="224.17" y1="575.4" x2="226.97" y2="575.4" stroke="#ff0000" stroke-width="0.9"/>
<line x1="224.17" y1="584.17" x2="226.97" y2="584.17" stroke="#ff0000" stroke-width="0.9"/>
<line x1="43.3" y1="544.39" x2="43.3" y2="557.55" stroke="#0000d0" stroke-width="0.9"/>
<line x1="41.9" y1="544.39" x2="44.7" y2="544.39" stroke="#0000d0" stroke-width="0.9"/>
<line x1="41.9" y1="557.55" x2="44.7" y2="557.55" stroke="#0000d0" stroke-width="0.9"/>
<line x1="59.87" y1="547.9" x2="59.87" y2="561.06" stroke="#0000d0" stroke-width="0.9"/>
<line x1="58.47" y1="547.9" x2="61.27" y2="547.9" stroke="#0000d0" stroke-width="0.9"/>
<line x1="58.47" y1="561.06" x2="61.27" y2="561.06" stroke="#0000d0" stroke-width="0.9"/>
<line x1="76.44" y1="549.36" x2="76.44" y2="561.06" stroke="#0000d0" stroke-width="0.9"/>
<line x1="75.04" y1="549.36" x2="77.84" y2="549.36" stroke="#0000d0" stroke-width="0.9"/>
<line x1="75.04" y1="561.06" x2="77.84" y2="561.06" stroke="#0000d0" stroke-width="0.9"/>
<line x1="93.01" y1="564.43" x2="93.01" y2="579.05" stroke="#0000d0" stroke-width="0.9"/>
<line x1="91.61" y1="564.43" x2="94.41" y2="564.43" stroke="#0000d0" stroke-width="0.9"/>
<line x1="91.61" y1="579.05" x2="94.41" y2="579.05" stroke="#0000d0" stroke-width="0.9"/>
<line x1="109.58" y1="565.01" x2="109.58" y2="579.64" stroke="#0000d0" stroke-width="0.9"/>
<line x1="108.18" y1="565.01" x2="110.98" y2="565.01" stroke="#0000d0" stroke-width="0.9"/>
<line x1="108.18" y1="579.64" x2="110.98" y2="579.64" stroke="#0000d0" stroke-width="0.9"/>
<line x1="126.15" y1="565.01" x2="126.15" y2="579.64" stroke="#0000d0" stroke-width="0.9"/>
<line x1="124.75" y1="565.01" x2="127.55" y2="565.01" stroke="#0000d0" stroke-width="0.9"/>
<line x1="124.75" y1="579.64" x2="127.55" y2="579.64" stroke="#0000d0" stroke-width="0.9"/>
<line x1="142.72" y1="511.05" x2="142.72" y2="529.47" stroke="#0000d0" stroke-width="0.9"/>
<line x1="141.32" y1="511.05" x2="144.12" y2="511.05" stroke="#0000d0" stroke-width="0.9"/>
<line x1="141.32" y1="529.47" x2="144.12" y2="529.47" stroke="#0000d0" stroke-width="0.9"/>
<line x1="159.29" y1="507.68" x2="159.29" y2="529.62" stroke="#0000d0" stroke-width="0.9"/>
<line x1="157.89" y1="507.68" x2="160.69" y2="507.68" stroke="#0000d0" stroke-width="0.9"/>
<line x1="157.89" y1="529.62" x2="160.69" y2="529.62" stroke="#0000d0" stroke-width="0.9"/>
<line x1="175.86" y1="506.66" x2="175.86" y2="527.13" stroke="#0000d0" stroke-width="0.9"/>
<line x1="174.46" y1="506.66" x2="177.26" y2="506.66" stroke="#0000d0" stroke-width="0.9"/>
<line x1="174.46" y1="527.13" x2="177.26" y2="527.13" stroke="#0000d0" stroke-width="0.9"/>
<line x1="192.43" y1="569.11" x2="192.43" y2="583.73" stroke="#0000d0" stroke-width="0.9"/>
<line x1="191.03" y1="569.11" x2="193.83" y2="569.11" stroke="#0000d0" stroke-width="0.9"/>
<line x1="191.03" y1="583.73" x2="193.83" y2="583.73" stroke="#0000d0" stroke-width="0.9"/>
<line x1="209" y1="569.55" x2="209" y2="584.17" stroke="#0000d0" stroke-width="0.9"/>
<line x1="207.6" y1="569.55" x2="210.4" y2="569.55" stroke="#0000d0" stroke-width="0.9"/>
<line x1="207.6" y1="584.17" x2="210.4" y2="584.17" stroke="#0000d0" stroke-width="0.9"/>
<line x1="225.57" y1="569.98" x2="225.57" y2="584.61" stroke="#0000d0" stroke-width="0.9"/>
<line x1="224.17" y1="569.98" x2="226.97" y2="569.98" stroke="#0000d0" stroke-width="0.9"/>
<line x1="224.17" y1="584.61" x2="226.97" y2="584.61" stroke="#0000d0" stroke-width="0.9"/>
<polyline points="43.3,550.53 59.87,553.31 76.44,554.04 93.01,574.08 109.58,574.96 126.15,575.69 142.72,514.12 159.29,510.17 175.86,506.66 192.43,579.64 209,579.05 225.57,579.78" fill="none" stroke="#ff0000" stroke-width="2.1" stroke-linejoin="round"/>
<polyline points="43.3,550.97 59.87,554.48 76.44,555.21 93.01,571.74 109.58,572.32 126.15,572.32 142.72,520.26 159.29,518.65 175.86,516.9 192.43,576.42 209,576.86 225.57,577.3" fill="none" stroke="#0000d0" stroke-width="2.1" stroke-linejoin="round"/>
<text x="266.5" y="462.8" font-size="20.5" font-weight="bold" fill="#000">g</text>
<text x="300.6" y="462.8" font-size="14">H7-hRGC</text>
<text transform="translate(362.4 458.2) scale(1 1.1)" font-size="8.3">E50K</text>
<line x1="304" y1="475.7" x2="304" y2="600.3" stroke="#000" stroke-width="1.8"/>
<line x1="299.5" y1="595.8" x2="509.2" y2="595.8" stroke="#000" stroke-width="1.8"/>
<line x1="299.5" y1="476.6" x2="304" y2="476.6" stroke="#000" stroke-width="1.8"/>
<text x="293.9" y="481.2" font-size="11.5" text-anchor="end">80</text>
<line x1="299.5" y1="506.4" x2="304" y2="506.4" stroke="#000" stroke-width="1.8"/>
<text x="293.9" y="511.4" font-size="11.5" text-anchor="end">60</text>
<line x1="299.5" y1="536.2" x2="304" y2="536.2" stroke="#000" stroke-width="1.8"/>
<text x="293.9" y="541.6" font-size="11.5" text-anchor="end">40</text>
<line x1="299.5" y1="566" x2="304" y2="566" stroke="#000" stroke-width="1.8"/>
<text x="293.9" y="572.1" font-size="11.5" text-anchor="end">20</text>
<line x1="299.5" y1="595.8" x2="304" y2="595.8" stroke="#000" stroke-width="1.8"/>
<text x="292.5" y="602.5" font-size="11.5" text-anchor="end">0</text>
<line x1="304" y1="595.8" x2="304" y2="600.3" stroke="#000" stroke-width="1.8"/>
<text x="305.3" y="611.3" font-size="11.5" text-anchor="middle">0</text>
<line x1="355.07" y1="595.8" x2="355.07" y2="600.3" stroke="#000" stroke-width="1.8"/>
<text x="355.07" y="611.3" font-size="11.5" text-anchor="middle">20</text>
<line x1="406.15" y1="595.8" x2="406.15" y2="600.3" stroke="#000" stroke-width="1.8"/>
<text x="406.15" y="611.3" font-size="11.5" text-anchor="middle">40</text>
<line x1="457.23" y1="595.8" x2="457.23" y2="600.3" stroke="#000" stroke-width="1.8"/>
<text x="457.23" y="611.3" font-size="11.5" text-anchor="middle">60</text>
<line x1="508.3" y1="595.8" x2="508.3" y2="600.3" stroke="#000" stroke-width="1.8"/>
<text x="508.3" y="611.3" font-size="11.5" text-anchor="middle">80</text>
<text x="414.7" y="627" font-size="11.8" text-anchor="middle">Time (minutes)</text>
<text x="276.5" y="544.3" font-size="11.7" text-anchor="middle" transform="rotate(-90 276.5 544.3)">Normalized OCR</text>
<text x="356.9" y="520.3" font-size="11.5" text-anchor="middle">Oligo</text>
<line x1="353" y1="524.4" x2="353" y2="554.5" stroke="#111" stroke-width="1.25" stroke-dasharray="5.3,3.8"/>
<path d="M350.3,553.7 L355.7,553.7 L353,559 Z" fill="#111" stroke="none" stroke-width="0"/>
<text x="386.2" y="487.9" font-size="11.5" text-anchor="middle">FCCP</text>
<line x1="394.2" y1="490" x2="394.2" y2="532.4" stroke="#111" stroke-width="1.25" stroke-dasharray="5.3,3.8"/>
<path d="M391.5,531.6 L396.9,531.6 L394.2,536.9 Z" fill="#111" stroke="none" stroke-width="0"/>
<text x="462.1" y="475.3" font-size="11.5" text-anchor="middle">Rot/AA</text>
<line x1="451.9" y1="480" x2="451.9" y2="522.2" stroke="#111" stroke-width="1.25" stroke-dasharray="5.3,3.8"/>
<path d="M449.2,521.4 L454.6,521.4 L451.9,526.7 Z" fill="#111" stroke="none" stroke-width="0"/>
<rect x="478.1" y="510.2" width="4.6" height="4.6" fill="#1c3faa"/>
<text transform="translate(485.8 515.6) scale(1 1.12)" font-size="9.3">DMSO</text>
<rect x="478.1" y="519" width="4.6" height="4.6" fill="#e8202a"/>
<text transform="translate(485.8 524.4) scale(1 1.12)" font-size="9.3">BX795</text>
<line x1="307.2" y1="546.18" x2="307.2" y2="555.12" stroke="#ff0000" stroke-width="0.9"/>
<line x1="305.8" y1="546.18" x2="308.6" y2="546.18" stroke="#ff0000" stroke-width="0.9"/>
<line x1="305.8" y1="555.12" x2="308.6" y2="555.12" stroke="#ff0000" stroke-width="0.9"/>
<line x1="323.77" y1="548.57" x2="323.77" y2="556.02" stroke="#ff0000" stroke-width="0.9"/>
<line x1="322.37" y1="548.57" x2="325.17" y2="548.57" stroke="#ff0000" stroke-width="0.9"/>
<line x1="322.37" y1="556.02" x2="325.17" y2="556.02" stroke="#ff0000" stroke-width="0.9"/>
<line x1="340.34" y1="549.16" x2="340.34" y2="556.61" stroke="#ff0000" stroke-width="0.9"/>
<line x1="338.94" y1="549.16" x2="341.74" y2="549.16" stroke="#ff0000" stroke-width="0.9"/>
<line x1="338.94" y1="556.61" x2="341.74" y2="556.61" stroke="#ff0000" stroke-width="0.9"/>
<line x1="356.91" y1="571.66" x2="356.91" y2="577.62" stroke="#ff0000" stroke-width="0.9"/>
<line x1="355.51" y1="571.66" x2="358.31" y2="571.66" stroke="#ff0000" stroke-width="0.9"/>
<line x1="355.51" y1="577.62" x2="358.31" y2="577.62" stroke="#ff0000" stroke-width="0.9"/>
<line x1="373.48" y1="572.7" x2="373.48" y2="578.66" stroke="#ff0000" stroke-width="0.9"/>
<line x1="372.08" y1="572.7" x2="374.88" y2="572.7" stroke="#ff0000" stroke-width="0.9"/>
<line x1="372.08" y1="578.66" x2="374.88" y2="578.66" stroke="#ff0000" stroke-width="0.9"/>
<line x1="390.05" y1="573.15" x2="390.05" y2="579.11" stroke="#ff0000" stroke-width="0.9"/>
<line x1="388.65" y1="573.15" x2="391.45" y2="573.15" stroke="#ff0000" stroke-width="0.9"/>
<line x1="388.65" y1="579.11" x2="391.45" y2="579.11" stroke="#ff0000" stroke-width="0.9"/>
<line x1="406.62" y1="491.5" x2="406.62" y2="507.89" stroke="#ff0000" stroke-width="0.9"/>
<line x1="405.22" y1="491.5" x2="408.02" y2="491.5" stroke="#ff0000" stroke-width="0.9"/>
<line x1="405.22" y1="507.89" x2="408.02" y2="507.89" stroke="#ff0000" stroke-width="0.9"/>
<line x1="423.19" y1="483.9" x2="423.19" y2="503.27" stroke="#ff0000" stroke-width="0.9"/>
<line x1="421.79" y1="483.9" x2="424.59" y2="483.9" stroke="#ff0000" stroke-width="0.9"/>
<line x1="421.79" y1="503.27" x2="424.59" y2="503.27" stroke="#ff0000" stroke-width="0.9"/>
<line x1="439.76" y1="479.28" x2="439.76" y2="500.14" stroke="#ff0000" stroke-width="0.9"/>
<line x1="438.36" y1="479.28" x2="441.16" y2="479.28" stroke="#ff0000" stroke-width="0.9"/>
<line x1="438.36" y1="500.14" x2="441.16" y2="500.14" stroke="#ff0000" stroke-width="0.9"/>
<line x1="456.33" y1="576.58" x2="456.33" y2="582.54" stroke="#ff0000" stroke-width="0.9"/>
<line x1="454.93" y1="576.58" x2="457.73" y2="576.58" stroke="#ff0000" stroke-width="0.9"/>
<line x1="454.93" y1="582.54" x2="457.73" y2="582.54" stroke="#ff0000" stroke-width="0.9"/>
<line x1="472.9" y1="576.58" x2="472.9" y2="582.54" stroke="#ff0000" stroke-width="0.9"/>
<line x1="471.5" y1="576.58" x2="474.3" y2="576.58" stroke="#ff0000" stroke-width="0.9"/>
<line x1="471.5" y1="582.54" x2="474.3" y2="582.54" stroke="#ff0000" stroke-width="0.9"/>
<line x1="489.47" y1="576.58" x2="489.47" y2="582.54" stroke="#ff0000" stroke-width="0.9"/>
<line x1="488.07" y1="576.58" x2="490.87" y2="576.58" stroke="#ff0000" stroke-width="0.9"/>
<line x1="488.07" y1="582.54" x2="490.87" y2="582.54" stroke="#ff0000" stroke-width="0.9"/>
<line x1="307.2" y1="544.39" x2="307.2" y2="557.8" stroke="#0000d0" stroke-width="0.9"/>
<line x1="305.8" y1="544.39" x2="308.6" y2="544.39" stroke="#0000d0" stroke-width="0.9"/>
<line x1="305.8" y1="557.8" x2="308.6" y2="557.8" stroke="#0000d0" stroke-width="0.9"/>
<line x1="323.77" y1="547.67" x2="323.77" y2="558.1" stroke="#0000d0" stroke-width="0.9"/>
<line x1="322.37" y1="547.67" x2="325.17" y2="547.67" stroke="#0000d0" stroke-width="0.9"/>
<line x1="322.37" y1="558.1" x2="325.17" y2="558.1" stroke="#0000d0" stroke-width="0.9"/>
<line x1="340.34" y1="548.87" x2="340.34" y2="559.29" stroke="#0000d0" stroke-width="0.9"/>
<line x1="338.94" y1="548.87" x2="341.74" y2="548.87" stroke="#0000d0" stroke-width="0.9"/>
<line x1="338.94" y1="559.29" x2="341.74" y2="559.29" stroke="#0000d0" stroke-width="0.9"/>
<line x1="356.91" y1="572.11" x2="356.91" y2="578.07" stroke="#0000d0" stroke-width="0.9"/>
<line x1="355.51" y1="572.11" x2="358.31" y2="572.11" stroke="#0000d0" stroke-width="0.9"/>
<line x1="355.51" y1="578.07" x2="358.31" y2="578.07" stroke="#0000d0" stroke-width="0.9"/>
<line x1="373.48" y1="573.15" x2="373.48" y2="579.11" stroke="#0000d0" stroke-width="0.9"/>
<line x1="372.08" y1="573.15" x2="374.88" y2="573.15" stroke="#0000d0" stroke-width="0.9"/>
<line x1="372.08" y1="579.11" x2="374.88" y2="579.11" stroke="#0000d0" stroke-width="0.9"/>
<line x1="390.05" y1="573.75" x2="390.05" y2="579.71" stroke="#0000d0" stroke-width="0.9"/>
<line x1="388.65" y1="573.75" x2="391.45" y2="573.75" stroke="#0000d0" stroke-width="0.9"/>
<line x1="388.65" y1="579.71" x2="391.45" y2="579.71" stroke="#0000d0" stroke-width="0.9"/>
<line x1="406.62" y1="514.3" x2="406.62" y2="527.71" stroke="#0000d0" stroke-width="0.9"/>
<line x1="405.22" y1="514.3" x2="408.02" y2="514.3" stroke="#0000d0" stroke-width="0.9"/>
<line x1="405.22" y1="527.71" x2="408.02" y2="527.71" stroke="#0000d0" stroke-width="0.9"/>
<line x1="423.19" y1="506.7" x2="423.19" y2="521.6" stroke="#0000d0" stroke-width="0.9"/>
<line x1="421.79" y1="506.7" x2="424.59" y2="506.7" stroke="#0000d0" stroke-width="0.9"/>
<line x1="421.79" y1="521.6" x2="424.59" y2="521.6" stroke="#0000d0" stroke-width="0.9"/>
<line x1="439.76" y1="500.59" x2="439.76" y2="515.49" stroke="#0000d0" stroke-width="0.9"/>
<line x1="438.36" y1="500.59" x2="441.16" y2="500.59" stroke="#0000d0" stroke-width="0.9"/>
<line x1="438.36" y1="515.49" x2="441.16" y2="515.49" stroke="#0000d0" stroke-width="0.9"/>
<line x1="456.33" y1="576.58" x2="456.33" y2="582.54" stroke="#0000d0" stroke-width="0.9"/>
<line x1="454.93" y1="576.58" x2="457.73" y2="576.58" stroke="#0000d0" stroke-width="0.9"/>
<line x1="454.93" y1="582.54" x2="457.73" y2="582.54" stroke="#0000d0" stroke-width="0.9"/>
<line x1="472.9" y1="577.77" x2="472.9" y2="583.73" stroke="#0000d0" stroke-width="0.9"/>
<line x1="471.5" y1="577.77" x2="474.3" y2="577.77" stroke="#0000d0" stroke-width="0.9"/>
<line x1="471.5" y1="583.73" x2="474.3" y2="583.73" stroke="#0000d0" stroke-width="0.9"/>
<line x1="489.47" y1="577.77" x2="489.47" y2="583.73" stroke="#0000d0" stroke-width="0.9"/>
<line x1="488.07" y1="577.77" x2="490.87" y2="577.77" stroke="#0000d0" stroke-width="0.9"/>
<line x1="488.07" y1="583.73" x2="490.87" y2="583.73" stroke="#0000d0" stroke-width="0.9"/>
<polyline points="307.2,550.65 323.77,552.29 340.34,552.89 356.91,574.64 373.48,575.68 390.05,576.13 406.62,499.69 423.19,493.59 439.76,489.71 456.33,579.56 472.9,579.56 489.47,579.56" fill="none" stroke="#ff0000" stroke-width="2.1" stroke-linejoin="round"/>
<polyline points="307.2,551.1 323.77,552.89 340.34,554.08 356.91,575.09 373.48,576.13 390.05,576.73 406.62,521 423.19,514.15 439.76,508.04 456.33,579.56 472.9,580.75 489.47,580.75" fill="none" stroke="#0000d0" stroke-width="2.1" stroke-linejoin="round"/>
<text x="532" y="463.3" font-size="20.5" font-weight="bold" fill="#000">h</text>
<line x1="592.6" y1="472.8" x2="592.6" y2="596.2" stroke="#000" stroke-width="1.8"/>
<line x1="585.2" y1="595.3" x2="685" y2="595.3" stroke="#000" stroke-width="1.8"/>
<line x1="585.2" y1="487.3" x2="592.6" y2="487.3" stroke="#000" stroke-width="1.8"/>
<text x="581.4" y="492.2" font-size="12.2" text-anchor="end">400</text>
<line x1="585.2" y1="514.3" x2="592.6" y2="514.3" stroke="#000" stroke-width="1.8"/>
<text x="581.4" y="519.2" font-size="12.2" text-anchor="end">300</text>
<line x1="585.2" y1="541.3" x2="592.6" y2="541.3" stroke="#000" stroke-width="1.8"/>
<text x="581.4" y="546.2" font-size="12.2" text-anchor="end">200</text>
<line x1="585.2" y1="568.3" x2="592.6" y2="568.3" stroke="#000" stroke-width="1.8"/>
<text x="581.4" y="573.2" font-size="12.2" text-anchor="end">100</text>
<line x1="585.2" y1="595.3" x2="592.6" y2="595.3" stroke="#000" stroke-width="1.8"/>
<text x="578.8" y="600.2" font-size="12.2" text-anchor="end">0</text>
<text x="557.8" y="536" font-size="11.9" text-anchor="middle" transform="rotate(-90 557.8 536)">Spare Respiratory Capacity (%)</text>
<path d="M599.7,595.3 L599.7,524.73 L609.3,524.73 L609.3,595.3" fill="none" stroke="#0000d0" stroke-width="2.5" stroke-linejoin="miter"/>
<line x1="604.5" y1="520.78" x2="604.5" y2="526.18" stroke="#222" stroke-width="1"/>
<line x1="601.9" y1="520.78" x2="607.1" y2="520.78" stroke="#222" stroke-width="1"/>
<line x1="601.9" y1="526.18" x2="607.1" y2="526.18" stroke="#222" stroke-width="1"/>
<rect x="602.25" y="508.49" width="1.9" height="1.9" fill="#0000d0"/>
<rect x="603.55" y="521.99" width="1.9" height="1.9" fill="#0000d0"/>
<rect x="604.85" y="523.61" width="1.9" height="1.9" fill="#0000d0"/>
<rect x="602.25" y="525.5" width="1.9" height="1.9" fill="#0000d0"/>
<rect x="603.55" y="526.85" width="1.9" height="1.9" fill="#0000d0"/>
<rect x="604.85" y="524.69" width="1.9" height="1.9" fill="#0000d0"/>
<path d="M617.7,595.3 L617.7,511.66 L627.3,511.66 L627.3,595.3" fill="none" stroke="#ff0000" stroke-width="2.5" stroke-linejoin="miter"/>
<line x1="622.5" y1="506.36" x2="622.5" y2="514.46" stroke="#222" stroke-width="1"/>
<line x1="619.9" y1="506.36" x2="625.1" y2="506.36" stroke="#222" stroke-width="1"/>
<line x1="619.9" y1="514.46" x2="625.1" y2="514.46" stroke="#222" stroke-width="1"/>
<rect x="620.25" y="495.8" width="1.9" height="1.9" fill="#ff0000"/>
<rect x="621.55" y="503.09" width="1.9" height="1.9" fill="#ff0000"/>
<rect x="622.85" y="513.35" width="1.9" height="1.9" fill="#ff0000"/>
<rect x="620.25" y="517.4" width="1.9" height="1.9" fill="#ff0000"/>
<rect x="621.55" y="518.21" width="1.9" height="1.9" fill="#ff0000"/>
<rect x="622.85" y="516.05" width="1.9" height="1.9" fill="#ff0000"/>
<path d="M648.2,595.3 L648.2,514.2 L657.8,514.2 L657.8,595.3" fill="none" stroke="#0000d0" stroke-width="2.5" stroke-linejoin="miter"/>
<line x1="653" y1="509.71" x2="653" y2="516.19" stroke="#222" stroke-width="1"/>
<line x1="650.4" y1="509.71" x2="655.6" y2="509.71" stroke="#222" stroke-width="1"/>
<line x1="650.4" y1="516.19" x2="655.6" y2="516.19" stroke="#222" stroke-width="1"/>
<rect x="650.75" y="504.44" width="1.9" height="1.9" fill="#0000d0"/>
<rect x="652.05" y="506.6" width="1.9" height="1.9" fill="#0000d0"/>
<rect x="653.35" y="510.65" width="1.9" height="1.9" fill="#0000d0"/>
<rect x="650.75" y="516.05" width="1.9" height="1.9" fill="#0000d0"/>
<rect x="652.05" y="521.45" width="1.9" height="1.9" fill="#0000d0"/>
<rect x="653.35" y="524.15" width="1.9" height="1.9" fill="#0000d0"/>
<path d="M666.4,595.3 L666.4,496.65 L676,496.65 L676,595.3" fill="none" stroke="#ff0000" stroke-width="2.5" stroke-linejoin="miter"/>
<line x1="671.2" y1="492.16" x2="671.2" y2="498.64" stroke="#222" stroke-width="1"/>
<line x1="668.6" y1="492.16" x2="673.8" y2="492.16" stroke="#222" stroke-width="1"/>
<line x1="668.6" y1="498.64" x2="673.8" y2="498.64" stroke="#222" stroke-width="1"/>
<rect x="668.95" y="480.95" width="1.9" height="1.9" fill="#ff0000"/>
<rect x="670.25" y="485" width="1.9" height="1.9" fill="#ff0000"/>
<rect x="671.55" y="490.4" width="1.9" height="1.9" fill="#ff0000"/>
<rect x="668.95" y="497.15" width="1.9" height="1.9" fill="#ff0000"/>
<rect x="670.25" y="499.85" width="1.9" height="1.9" fill="#ff0000"/>
<rect x="671.55" y="503.9" width="1.9" height="1.9" fill="#ff0000"/>
<line x1="613.4" y1="595.3" x2="613.4" y2="600.3" stroke="#000" stroke-width="1.8"/>
<text x="612.4" y="613" font-size="11.5" text-anchor="middle">WT</text>
<line x1="662.8" y1="595.3" x2="662.8" y2="600.3" stroke="#000" stroke-width="1.8"/>
<text x="661.8" y="613" font-size="11.5" text-anchor="middle">E50K</text>
<path d="M604.6,501.6 L604.6,488.3 L623.2,488.3 L623.2,492.4" fill="none" stroke="#1a1a1a" stroke-width="1.3"/>
<text x="614.3" y="490.99" font-size="13" text-anchor="middle">*</text>
<path d="M653.7,498 L653.7,473.8 L671.7,473.8 L671.7,480" fill="none" stroke="#1a1a1a" stroke-width="1.3"/>
<text x="662.8" y="476.69" font-size="13" text-anchor="middle" letter-spacing="0.4">**</text>
<rect x="594" y="454" width="4.9" height="4.8" fill="#1c3faa"/>
<text transform="translate(603.6 460.6) scale(1 1.06)" font-size="9.4">DMSO</text>
<rect x="594" y="464" width="4.9" height="4.8" fill="#e8202a"/>
<text transform="translate(603.6 470.1) scale(1 1.06)" font-size="9.4">BX795</text>
<text x="-0.3" y="659" font-size="20.5" font-weight="bold" fill="#000">i</text>
<text x="29.1" y="661" font-size="14">24h H7-hRGC</text>
<text transform="translate(118.5 656) scale(1 1.06)" font-size="8.4">WT</text>
<line x1="45" y1="670.7" x2="45" y2="803.9" stroke="#000" stroke-width="1.8"/>
<line x1="45" y1="803" x2="156.8" y2="803" stroke="#000" stroke-width="1.8"/>
<line x1="40.5" y1="671.6" x2="45" y2="671.6" stroke="#000" stroke-width="1.8"/>
<text x="38.1" y="675.8" font-size="11.6" text-anchor="end">1.5</text>
<line x1="40.5" y1="715.4" x2="45" y2="715.4" stroke="#000" stroke-width="1.8"/>
<text x="38.1" y="719.6" font-size="11.6" text-anchor="end">1.0</text>
<line x1="40.5" y1="759.2" x2="45" y2="759.2" stroke="#000" stroke-width="1.8"/>
<text x="38.1" y="763.4" font-size="11.6" text-anchor="end">0.5</text>
<line x1="40.5" y1="803" x2="45" y2="803" stroke="#000" stroke-width="1.8"/>
<text x="38.1" y="807.2" font-size="11.6" text-anchor="end">0.0</text>
<text x="19.3" y="737.5" font-size="11.7" text-anchor="middle" transform="rotate(-90 19.3 737.5)">Normalized Caspase-3/7 activity</text>
<path d="M53.8,803 L53.8,716 L70,716 L70,803" fill="none" stroke="#3838d8" stroke-width="1.2" stroke-linejoin="miter"/>
<line x1="61.9" y1="712.77" x2="61.9" y2="718.03" stroke="#111" stroke-width="1.4"/>
<line x1="58.3" y1="712.77" x2="65.5" y2="712.77" stroke="#111" stroke-width="1.4"/>
<line x1="58.3" y1="718.03" x2="65.5" y2="718.03" stroke="#111" stroke-width="1.4"/>
<circle cx="61.9" cy="709.97" r="1.2" fill="#0000d0"/>
<circle cx="59.4" cy="716.63" r="1.2" fill="#0000d0"/>
<circle cx="64.3" cy="716.63" r="1.2" fill="#0000d0"/>
<circle cx="60.4" cy="719.08" r="1.2" fill="#0000d0"/>
<line x1="61.9" y1="803" x2="61.9" y2="807.5" stroke="#000" stroke-width="1.8"/>
<path d="M79.5,803 L79.5,727.39 L95.7,727.39 L95.7,803" fill="none" stroke="#3838d8" stroke-width="1.2" stroke-linejoin="miter"/>
<line x1="87.6" y1="725.47" x2="87.6" y2="728.1" stroke="#111" stroke-width="1.4"/>
<line x1="84" y1="725.47" x2="91.2" y2="725.47" stroke="#111" stroke-width="1.4"/>
<line x1="84" y1="728.1" x2="91.2" y2="728.1" stroke="#111" stroke-width="1.4"/>
<circle cx="85" cy="726.35" r="1.2" fill="#0000d0"/>
<circle cx="89.4" cy="724.86" r="1.2" fill="#0000d0"/>
<circle cx="85.8" cy="729.24" r="1.2" fill="#0000d0"/>
<circle cx="89" cy="729.07" r="1.2" fill="#0000d0"/>
<line x1="87.6" y1="803" x2="87.6" y2="807.5" stroke="#000" stroke-width="1.8"/>
<path d="M105.2,803 L105.2,711.18 L121.4,711.18 L121.4,803" fill="none" stroke="#3838d8" stroke-width="1.2" stroke-linejoin="miter"/>
<line x1="113.3" y1="707.08" x2="113.3" y2="714.09" stroke="#111" stroke-width="1.4"/>
<line x1="109.7" y1="707.08" x2="116.9" y2="707.08" stroke="#111" stroke-width="1.4"/>
<line x1="109.7" y1="714.09" x2="116.9" y2="714.09" stroke="#111" stroke-width="1.4"/>
<circle cx="111.3" cy="706.64" r="1.2" fill="#0000d0"/>
<circle cx="116" cy="706.64" r="1.2" fill="#0000d0"/>
<circle cx="113.5" cy="711.02" r="1.2" fill="#0000d0"/>
<circle cx="113.1" cy="717.59" r="1.2" fill="#0000d0"/>
<line x1="113.3" y1="803" x2="113.3" y2="807.5" stroke="#000" stroke-width="1.8"/>
<path d="M131.1,803 L131.1,729.14 L147.3,729.14 L147.3,803" fill="none" stroke="#3838d8" stroke-width="1.2" stroke-linejoin="miter"/>
<line x1="139.2" y1="728.1" x2="139.2" y2="728.98" stroke="#111" stroke-width="1.4"/>
<line x1="135.6" y1="728.1" x2="142.8" y2="728.1" stroke="#111" stroke-width="1.4"/>
<line x1="135.6" y1="728.98" x2="142.8" y2="728.98" stroke="#111" stroke-width="1.4"/>
<circle cx="131.8" cy="728.98" r="1.2" fill="#0000d0"/>
<circle cx="136.9" cy="728.98" r="1.2" fill="#0000d0"/>
<circle cx="141.2" cy="728.98" r="1.2" fill="#0000d0"/>
<circle cx="146.4" cy="728.98" r="1.2" fill="#0000d0"/>
<line x1="139.2" y1="803" x2="139.2" y2="807.5" stroke="#000" stroke-width="1.8"/>
<path d="M64,706.8 L64,685 L139.9,685 L139.9,722.7" fill="none" stroke="#111" stroke-width="1.6"/>
<text x="105.2" y="687.17" font-size="11.5" text-anchor="middle" letter-spacing="0.4">***</text>
<path d="M67.5,707.4 L67.5,694.3 L87.6,694.3 L87.6,725.5" fill="none" stroke="#111" stroke-width="1.6"/>
<text x="78.5" y="696.47" font-size="11.5" text-anchor="middle" letter-spacing="0.4">**</text>
<path d="M114.6,702.6 L114.6,694.3 L136.6,694.3 L136.6,722.7" fill="none" stroke="#111" stroke-width="1.6"/>
<text x="125.7" y="696.47" font-size="11.5" text-anchor="middle" letter-spacing="0.4">***</text>
<text x="64.3" y="814.6" font-size="11.5" text-anchor="end" transform="rotate(-60 64.3 814.6)">DMSO</text>
<text x="90" y="814.6" font-size="11.5" text-anchor="end" transform="rotate(-60 90 814.6)">BX795</text>
<text x="115.7" y="814.6" font-size="11.5" text-anchor="end" transform="rotate(-60 115.7 814.6)">CCCP</text>
<text x="141.6" y="814.6" font-size="11.5" text-anchor="end" transform="rotate(-60 141.6 814.6)">CCCP+BX795</text>
<text x="153.3" y="662" font-size="20.5" font-weight="bold" fill="#000">j</text>
<text x="188.4" y="661" font-size="14">48h H7-hRGC</text>
<text transform="translate(277.8 656) scale(1 1.06)" font-size="8.4">WT</text>
<line x1="202.1" y1="668.3" x2="202.1" y2="803.1" stroke="#000" stroke-width="1.8"/>
<line x1="202.1" y1="802.2" x2="313.5" y2="802.2" stroke="#000" stroke-width="1.8"/>
<line x1="197.6" y1="669.2" x2="202.1" y2="669.2" stroke="#000" stroke-width="1.8"/>
<text x="194.8" y="673.4" font-size="11.6" text-anchor="end">2.0</text>
<line x1="197.6" y1="702.45" x2="202.1" y2="702.45" stroke="#000" stroke-width="1.8"/>
<text x="194.8" y="706.65" font-size="11.6" text-anchor="end">1.5</text>
<line x1="197.6" y1="735.7" x2="202.1" y2="735.7" stroke="#000" stroke-width="1.8"/>
<text x="194.8" y="739.9" font-size="11.6" text-anchor="end">1.0</text>
<line x1="197.6" y1="768.95" x2="202.1" y2="768.95" stroke="#000" stroke-width="1.8"/>
<text x="194.8" y="773.15" font-size="11.6" text-anchor="end">0.5</text>
<line x1="197.6" y1="802.2" x2="202.1" y2="802.2" stroke="#000" stroke-width="1.8"/>
<text x="194.8" y="806.4" font-size="11.6" text-anchor="end">0.0</text>
<text x="178" y="737.5" font-size="11.7" text-anchor="middle" transform="rotate(-90 178 737.5)">Normalized Caspase-3/7 activity</text>
<path d="M211.1,802.2 L211.1,736.65 L227.3,736.65 L227.3,802.2" fill="none" stroke="#6a6ae6" stroke-width="1.1" stroke-linejoin="miter"/>
<line x1="219.2" y1="729.98" x2="219.2" y2="742.22" stroke="#111" stroke-width="1.4"/>
<line x1="215.6" y1="729.98" x2="222.8" y2="729.98" stroke="#111" stroke-width="1.4"/>
<line x1="215.6" y1="742.22" x2="222.8" y2="742.22" stroke="#111" stroke-width="1.4"/>
<circle cx="219.2" cy="722.93" r="1.2" fill="#0000d0"/>
<circle cx="219.2" cy="728.52" r="1.2" fill="#0000d0"/>
<circle cx="219.2" cy="744.48" r="1.2" fill="#0000d0"/>
<circle cx="219.2" cy="747.4" r="1.2" fill="#0000d0"/>
<line x1="219.2" y1="802.2" x2="219.2" y2="806.7" stroke="#000" stroke-width="1.8"/>
<path d="M236.9,802.2 L236.9,738.78 L253.1,738.78 L253.1,802.2" fill="none" stroke="#6a6ae6" stroke-width="1.1" stroke-linejoin="miter"/>
<line x1="245" y1="730.91" x2="245" y2="745.54" stroke="#111" stroke-width="1.4"/>
<line x1="241.4" y1="730.91" x2="248.6" y2="730.91" stroke="#111" stroke-width="1.4"/>
<line x1="241.4" y1="745.54" x2="248.6" y2="745.54" stroke="#111" stroke-width="1.4"/>
<circle cx="245" cy="723.4" r="1.2" fill="#0000d0"/>
<circle cx="242.8" cy="733.9" r="1.2" fill="#0000d0"/>
<circle cx="247" cy="735.3" r="1.2" fill="#0000d0"/>
<circle cx="245" cy="758.38" r="1.2" fill="#0000d0"/>
<line x1="245" y1="802.2" x2="245" y2="806.7" stroke="#000" stroke-width="1.8"/>
<path d="M262.3,802.2 L262.3,720.62 L278.5,720.62 L278.5,802.2" fill="none" stroke="#6a6ae6" stroke-width="1.1" stroke-linejoin="miter"/>
<line x1="270.4" y1="710.43" x2="270.4" y2="729.72" stroke="#111" stroke-width="1.4"/>
<line x1="266.8" y1="710.43" x2="274" y2="710.43" stroke="#111" stroke-width="1.4"/>
<line x1="266.8" y1="729.72" x2="274" y2="729.72" stroke="#111" stroke-width="1.4"/>
<circle cx="270.4" cy="699.12" r="1.2" fill="#0000d0"/>
<circle cx="270.4" cy="708.3" r="1.2" fill="#0000d0"/>
<circle cx="270.4" cy="734.04" r="1.2" fill="#0000d0"/>
<circle cx="270.4" cy="738.23" r="1.2" fill="#0000d0"/>
<line x1="270.4" y1="802.2" x2="270.4" y2="806.7" stroke="#000" stroke-width="1.8"/>
<path d="M288.1,802.2 L288.1,727.87 L304.3,727.87 L304.3,802.2" fill="none" stroke="#6a6ae6" stroke-width="1.1" stroke-linejoin="miter"/>
<line x1="296.2" y1="719.67" x2="296.2" y2="734.97" stroke="#111" stroke-width="1.4"/>
<line x1="292.6" y1="719.67" x2="299.8" y2="719.67" stroke="#111" stroke-width="1.4"/>
<line x1="292.6" y1="734.97" x2="299.8" y2="734.97" stroke="#111" stroke-width="1.4"/>
<circle cx="296.2" cy="712.43" r="1.2" fill="#0000d0"/>
<circle cx="294" cy="723.07" r="1.2" fill="#0000d0"/>
<circle cx="298.4" cy="724.13" r="1.2" fill="#0000d0"/>
<circle cx="296.2" cy="748.2" r="1.2" fill="#0000d0"/>
<line x1="296.2" y1="802.2" x2="296.2" y2="806.7" stroke="#000" stroke-width="1.8"/>
<text x="221.6" y="813.8" font-size="11.5" text-anchor="end" transform="rotate(-60 221.6 813.8)">DMSO</text>
<text x="247.4" y="813.8" font-size="11.5" text-anchor="end" transform="rotate(-60 247.4 813.8)">BX795</text>
<text x="272.8" y="813.8" font-size="11.5" text-anchor="end" transform="rotate(-60 272.8 813.8)">CCCP</text>
<text x="298.6" y="813.8" font-size="11.5" text-anchor="end" transform="rotate(-60 298.6 813.8)">CCCP+BX795</text>
<text x="346.3" y="661.6" font-size="20.5" font-weight="bold" fill="#000">k</text>
<text x="375.9" y="661" font-size="14">24h H7-hRGC</text>
<text transform="translate(465.3 656) scale(1 1.06)" font-size="8.4">E50K</text>
<line x1="393.9" y1="666.45" x2="393.9" y2="802.8" stroke="#000" stroke-width="1.8"/>
<line x1="393.9" y1="801.9" x2="503" y2="801.9" stroke="#000" stroke-width="1.8"/>
<line x1="389.4" y1="667.35" x2="393.9" y2="667.35" stroke="#000" stroke-width="1.8"/>
<text x="385.7" y="671.55" font-size="11.6" text-anchor="end">1.5</text>
<line x1="389.4" y1="712.2" x2="393.9" y2="712.2" stroke="#000" stroke-width="1.8"/>
<text x="385.7" y="716.4" font-size="11.6" text-anchor="end">1.0</text>
<line x1="389.4" y1="757.05" x2="393.9" y2="757.05" stroke="#000" stroke-width="1.8"/>
<text x="385.7" y="761.25" font-size="11.6" text-anchor="end">0.5</text>
<line x1="389.4" y1="801.9" x2="393.9" y2="801.9" stroke="#000" stroke-width="1.8"/>
<text x="385.7" y="806.1" font-size="11.6" text-anchor="end">0.0</text>
<text x="368.2" y="737.5" font-size="11.7" text-anchor="middle" transform="rotate(-90 368.2 737.5)">Normalized Caspase-3/7 activity</text>
<path d="M402.7,801.9 L402.7,712.8 L418.9,712.8 L418.9,801.9" fill="none" stroke="#ff2a2a" stroke-width="1.2" stroke-linejoin="miter"/>
<line x1="410.8" y1="708.61" x2="410.8" y2="715.79" stroke="#111" stroke-width="1.4"/>
<line x1="407.2" y1="708.61" x2="414.4" y2="708.61" stroke="#111" stroke-width="1.4"/>
<line x1="407.2" y1="715.79" x2="414.4" y2="715.79" stroke="#111" stroke-width="1.4"/>
<circle cx="408.2" cy="708.97" r="1.2" fill="#ff0000"/>
<circle cx="412.6" cy="707" r="1.2" fill="#ff0000"/>
<circle cx="412.6" cy="711.03" r="1.2" fill="#ff0000"/>
<circle cx="410.8" cy="720.72" r="1.2" fill="#ff0000"/>
<line x1="410.8" y1="801.9" x2="410.8" y2="806.4" stroke="#000" stroke-width="1.8"/>
<path d="M428.1,801.9 L428.1,731.01 L444.3,731.01 L444.3,801.9" fill="none" stroke="#ff2a2a" stroke-width="1.2" stroke-linejoin="miter"/>
<line x1="436.2" y1="728.62" x2="436.2" y2="732.2" stroke="#111" stroke-width="1.4"/>
<line x1="432.6" y1="728.62" x2="439.8" y2="728.62" stroke="#111" stroke-width="1.4"/>
<line x1="432.6" y1="732.2" x2="439.8" y2="732.2" stroke="#111" stroke-width="1.4"/>
<circle cx="433.8" cy="727.72" r="1.2" fill="#ff0000"/>
<circle cx="437.7" cy="727.72" r="1.2" fill="#ff0000"/>
<circle cx="433.8" cy="733.28" r="1.2" fill="#ff0000"/>
<circle cx="437.7" cy="733.28" r="1.2" fill="#ff0000"/>
<line x1="436.2" y1="801.9" x2="436.2" y2="806.4" stroke="#000" stroke-width="1.8"/>
<path d="M453.3,801.9 L453.3,711.45 L469.5,711.45 L469.5,801.9" fill="none" stroke="#ff2a2a" stroke-width="1.2" stroke-linejoin="miter"/>
<line x1="461.4" y1="709.06" x2="461.4" y2="712.65" stroke="#111" stroke-width="1.4"/>
<line x1="457.8" y1="709.06" x2="465" y2="709.06" stroke="#111" stroke-width="1.4"/>
<line x1="457.8" y1="712.65" x2="465" y2="712.65" stroke="#111" stroke-width="1.4"/>
<circle cx="461.1" cy="706.1" r="1.2" fill="#ff0000"/>
<circle cx="459" cy="710.5" r="1.2" fill="#ff0000"/>
<circle cx="463" cy="710.5" r="1.2" fill="#ff0000"/>
<circle cx="461.4" cy="713.55" r="1.2" fill="#ff0000"/>
<line x1="461.4" y1="801.9" x2="461.4" y2="806.4" stroke="#000" stroke-width="1.8"/>
<path d="M478.4,801.9 L478.4,728.05 L494.6,728.05 L494.6,801.9" fill="none" stroke="#ff2a2a" stroke-width="1.2" stroke-linejoin="miter"/>
<line x1="486.5" y1="725.65" x2="486.5" y2="729.24" stroke="#111" stroke-width="1.4"/>
<line x1="482.9" y1="725.65" x2="490.1" y2="725.65" stroke="#111" stroke-width="1.4"/>
<line x1="482.9" y1="729.24" x2="490.1" y2="729.24" stroke="#111" stroke-width="1.4"/>
<circle cx="481.9" cy="723.59" r="1.2" fill="#ff0000"/>
<circle cx="490.3" cy="726.01" r="1.2" fill="#ff0000"/>
<circle cx="486.5" cy="727" r="1.2" fill="#ff0000"/>
<circle cx="486.5" cy="731.4" r="1.2" fill="#ff0000"/>
<line x1="486.5" y1="801.9" x2="486.5" y2="806.4" stroke="#000" stroke-width="1.8"/>
<path d="M411,703.6 L411,681.4 L487.6,681.4 L487.6,719.6" fill="none" stroke="#111" stroke-width="1.6"/>
<text x="451.2" y="683.57" font-size="11.5" text-anchor="middle" letter-spacing="0.4">**</text>
<path d="M414.6,703.6 L414.6,690.7 L434.6,690.7 L434.6,718.2" fill="none" stroke="#111" stroke-width="1.6"/>
<text x="426.2" y="692.87" font-size="11.5" text-anchor="middle" letter-spacing="0.4">**</text>
<path d="M461.3,699.2 L461.3,690.7 L483.6,690.7 L483.6,719.6" fill="none" stroke="#111" stroke-width="1.6"/>
<text x="473" y="692.87" font-size="11.5" text-anchor="middle" letter-spacing="0.4">***</text>
<text x="413.2" y="813.5" font-size="11.5" text-anchor="end" transform="rotate(-60 413.2 813.5)">DMSO</text>
<text x="438.6" y="813.5" font-size="11.5" text-anchor="end" transform="rotate(-60 438.6 813.5)">BX795</text>
<text x="463.8" y="813.5" font-size="11.5" text-anchor="end" transform="rotate(-60 463.8 813.5)">CCCP</text>
<text x="488.9" y="813.5" font-size="11.5" text-anchor="end" transform="rotate(-60 488.9 813.5)">CCCP+BX795</text>
<text x="509.7" y="660.3" font-size="20.5" font-weight="bold" fill="#000">l</text>
<text x="539" y="661" font-size="14">48h H7-hRGC</text>
<text transform="translate(628.4 656) scale(1 1.06)" font-size="8.4">E50K</text>
<line x1="556" y1="664.5" x2="556" y2="802.8" stroke="#000" stroke-width="1.8"/>
<line x1="556" y1="801.9" x2="669.9" y2="801.9" stroke="#000" stroke-width="1.8"/>
<line x1="551.5" y1="665.4" x2="556" y2="665.4" stroke="#000" stroke-width="1.8"/>
<text x="547.8" y="669.6" font-size="11.6" text-anchor="end">2.5</text>
<line x1="551.5" y1="692.7" x2="556" y2="692.7" stroke="#000" stroke-width="1.8"/>
<text x="547.8" y="696.9" font-size="11.6" text-anchor="end">2.0</text>
<line x1="551.5" y1="720" x2="556" y2="720" stroke="#000" stroke-width="1.8"/>
<text x="547.8" y="724.2" font-size="11.6" text-anchor="end">1.5</text>
<line x1="551.5" y1="747.3" x2="556" y2="747.3" stroke="#000" stroke-width="1.8"/>
<text x="547.8" y="751.5" font-size="11.6" text-anchor="end">1.0</text>
<line x1="551.5" y1="774.6" x2="556" y2="774.6" stroke="#000" stroke-width="1.8"/>
<text x="547.8" y="778.8" font-size="11.6" text-anchor="end">0.5</text>
<line x1="551.5" y1="801.9" x2="556" y2="801.9" stroke="#000" stroke-width="1.8"/>
<text x="547.8" y="806.1" font-size="11.6" text-anchor="end">0.0</text>
<text x="529.5" y="737.5" font-size="11.7" text-anchor="middle" transform="rotate(-90 529.5 737.5)">Normalized Caspase-3/7 activity</text>
<path d="M565.7,801.9 L565.7,747.85 L581.9,747.85 L581.9,801.9" fill="none" stroke="#ff7070" stroke-width="1.1" stroke-linejoin="miter"/>
<line x1="573.8" y1="745.12" x2="573.8" y2="749.48" stroke="#111" stroke-width="1.4"/>
<line x1="570.2" y1="745.12" x2="577.4" y2="745.12" stroke="#111" stroke-width="1.4"/>
<line x1="570.2" y1="749.48" x2="577.4" y2="749.48" stroke="#111" stroke-width="1.4"/>
<circle cx="570.9" cy="745.01" r="1.2" fill="#ff0000"/>
<circle cx="575.7" cy="742.6" r="1.2" fill="#ff0000"/>
<circle cx="573.6" cy="752.98" r="1.2" fill="#ff0000"/>
<circle cx="573.8" cy="747.3" r="1.2" fill="#ff0000"/>
<line x1="573.8" y1="801.9" x2="573.8" y2="806.4" stroke="#000" stroke-width="1.8"/>
<path d="M591.5,801.9 L591.5,761.39 L607.7,761.39 L607.7,801.9" fill="none" stroke="#ff7070" stroke-width="1.1" stroke-linejoin="miter"/>
<line x1="599.6" y1="759.75" x2="599.6" y2="761.93" stroke="#111" stroke-width="1.4"/>
<line x1="596" y1="759.75" x2="603.2" y2="759.75" stroke="#111" stroke-width="1.4"/>
<line x1="596" y1="761.93" x2="603.2" y2="761.93" stroke="#111" stroke-width="1.4"/>
<circle cx="595.3" cy="758.22" r="1.2" fill="#ff0000"/>
<circle cx="599.8" cy="758.98" r="1.2" fill="#ff0000"/>
<circle cx="604.1" cy="760.29" r="1.2" fill="#ff0000"/>
<circle cx="595.3" cy="763.52" r="1.2" fill="#ff0000"/>
<line x1="599.6" y1="801.9" x2="599.6" y2="806.4" stroke="#000" stroke-width="1.8"/>
<path d="M617.5,801.9 L617.5,707.45 L633.7,707.45 L633.7,801.9" fill="none" stroke="#ff7070" stroke-width="1.1" stroke-linejoin="miter"/>
<line x1="625.6" y1="698.16" x2="625.6" y2="715.63" stroke="#111" stroke-width="1.4"/>
<line x1="622" y1="698.16" x2="629.2" y2="698.16" stroke="#111" stroke-width="1.4"/>
<line x1="622" y1="715.63" x2="629.2" y2="715.63" stroke="#111" stroke-width="1.4"/>
<circle cx="625.6" cy="685.6" r="1.2" fill="#ff0000"/>
<circle cx="625.6" cy="702.53" r="1.2" fill="#ff0000"/>
<circle cx="625.6" cy="712.08" r="1.2" fill="#ff0000"/>
<circle cx="625.6" cy="726.99" r="1.2" fill="#ff0000"/>
<line x1="625.6" y1="801.9" x2="625.6" y2="806.4" stroke="#000" stroke-width="1.8"/>
<path d="M643.8,801.9 L643.8,735.02 L660,735.02 L660,801.9" fill="none" stroke="#ff7070" stroke-width="1.1" stroke-linejoin="miter"/>
<line x1="651.9" y1="726.82" x2="651.9" y2="742.11" stroke="#111" stroke-width="1.4"/>
<line x1="648.3" y1="726.82" x2="655.5" y2="726.82" stroke="#111" stroke-width="1.4"/>
<line x1="648.3" y1="742.11" x2="655.5" y2="742.11" stroke="#111" stroke-width="1.4"/>
<circle cx="649.9" cy="725.68" r="1.2" fill="#ff0000"/>
<circle cx="654.7" cy="724.1" r="1.2" fill="#ff0000"/>
<circle cx="654.7" cy="728.19" r="1.2" fill="#ff0000"/>
<circle cx="652.3" cy="758.22" r="1.2" fill="#ff0000"/>
<line x1="651.9" y1="801.9" x2="651.9" y2="806.4" stroke="#000" stroke-width="1.8"/>
<path d="M573.4,740 L573.4,673.8 L625.3,673.8 L625.3,681.9" fill="none" stroke="#111" stroke-width="1.6"/>
<text x="597.5" y="675.97" font-size="11.5" text-anchor="middle" letter-spacing="0.4">**</text>
<path d="M627.2,680 L627.2,673.8 L652.3,673.8 L652.3,719.7" fill="none" stroke="#111" stroke-width="1.6"/>
<text x="640.1" y="675.97" font-size="11.5" text-anchor="middle">*</text>
<path d="M576.6,740 L576.6,686 L599,686 L599,752.2" fill="none" stroke="#111" stroke-width="1.6"/>
<text x="588" y="688.17" font-size="11.5" text-anchor="middle" letter-spacing="0.4">***</text>
<text x="576.2" y="813.5" font-size="11.5" text-anchor="end" transform="rotate(-60 576.2 813.5)">DMSO</text>
<text x="602" y="813.5" font-size="11.5" text-anchor="end" transform="rotate(-60 602 813.5)">BX795</text>
<text x="628" y="813.5" font-size="11.5" text-anchor="end" transform="rotate(-60 628 813.5)">CCCP</text>
<text x="654.3" y="813.5" font-size="11.5" text-anchor="end" transform="rotate(-60 654.3 813.5)">CCCP+BX795</text>
</svg>
</body></html>
